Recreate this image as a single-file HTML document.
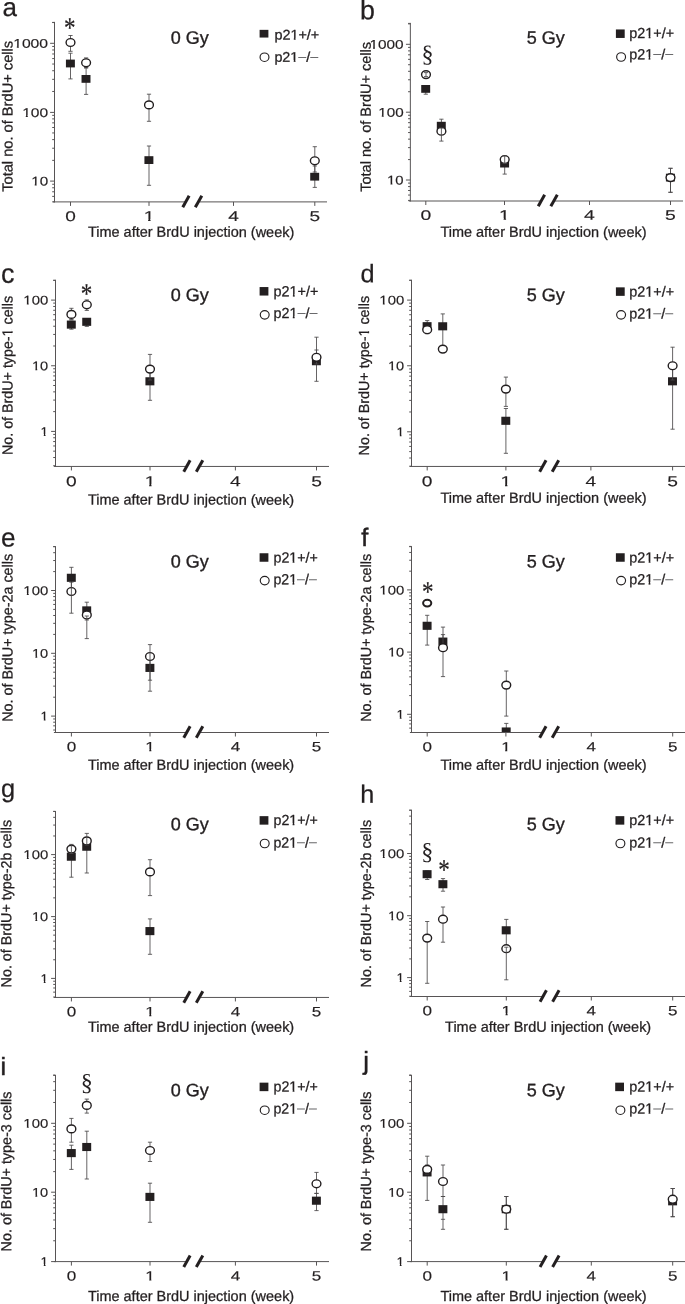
<!DOCTYPE html>
<html lang="en"><head><meta charset="utf-8"><title>BrdU+ cell counts after BrdU injection</title>
<style>
html,body{margin:0;padding:0;background:#fff;}
svg{display:block;}
text{white-space:pre;}
</style></head>
<body>
<svg width="685" height="1304" viewBox="0 0 685 1304">
<rect x="0" y="0" width="685" height="1304" fill="#ffffff"/>
<g id="panel-a">
<clipPath id="clip-a"><rect x="54.5" y="17.4" width="277.5" height="184.90"/></clipPath>
<g clip-path="url(#clip-a)">
<line x1="70.50" y1="53.20" x2="70.50" y2="78.90" stroke="#4a4849" stroke-width="0.85"/>
<line x1="68.40" y1="53.20" x2="72.60" y2="53.20" stroke="#4a4849" stroke-width="0.85"/>
<line x1="68.40" y1="78.90" x2="72.60" y2="78.90" stroke="#4a4849" stroke-width="0.85"/>
<rect x="65.93" y="59.60" width="8.95" height="7.8" fill="#231f20"/>
<line x1="70.50" y1="35.50" x2="70.50" y2="51.30" stroke="#4a4849" stroke-width="0.85"/>
<line x1="68.40" y1="35.50" x2="72.60" y2="35.50" stroke="#4a4849" stroke-width="0.85"/>
<line x1="68.40" y1="51.30" x2="72.60" y2="51.30" stroke="#4a4849" stroke-width="0.85"/>
<ellipse cx="70.50" cy="42.50" rx="4.4" ry="3.92" fill="#fff" stroke="#231f20" stroke-width="1.4"/>
<line x1="86.10" y1="67.60" x2="86.10" y2="94.40" stroke="#4a4849" stroke-width="0.85"/>
<line x1="84.00" y1="67.60" x2="88.20" y2="67.60" stroke="#4a4849" stroke-width="0.85"/>
<line x1="84.00" y1="94.40" x2="88.20" y2="94.40" stroke="#4a4849" stroke-width="0.85"/>
<rect x="81.53" y="75.00" width="8.95" height="7.8" fill="#231f20"/>
<line x1="86.10" y1="57.90" x2="86.10" y2="68.00" stroke="#4a4849" stroke-width="0.85"/>
<line x1="84.00" y1="57.90" x2="88.20" y2="57.90" stroke="#4a4849" stroke-width="0.85"/>
<line x1="84.00" y1="68.00" x2="88.20" y2="68.00" stroke="#4a4849" stroke-width="0.85"/>
<ellipse cx="86.10" cy="62.80" rx="4.4" ry="3.92" fill="#fff" stroke="#231f20" stroke-width="1.4"/>
<line x1="149.00" y1="146.00" x2="149.00" y2="185.30" stroke="#4a4849" stroke-width="0.85"/>
<line x1="146.90" y1="146.00" x2="151.10" y2="146.00" stroke="#4a4849" stroke-width="0.85"/>
<line x1="146.90" y1="185.30" x2="151.10" y2="185.30" stroke="#4a4849" stroke-width="0.85"/>
<rect x="144.43" y="156.20" width="8.95" height="7.8" fill="#231f20"/>
<line x1="149.00" y1="94.20" x2="149.00" y2="121.30" stroke="#4a4849" stroke-width="0.85"/>
<line x1="146.90" y1="94.20" x2="151.10" y2="94.20" stroke="#4a4849" stroke-width="0.85"/>
<line x1="146.90" y1="121.30" x2="151.10" y2="121.30" stroke="#4a4849" stroke-width="0.85"/>
<ellipse cx="149.00" cy="104.90" rx="4.4" ry="3.92" fill="#fff" stroke="#231f20" stroke-width="1.4"/>
<line x1="314.80" y1="166.00" x2="314.80" y2="187.40" stroke="#4a4849" stroke-width="0.85"/>
<line x1="312.70" y1="166.00" x2="316.90" y2="166.00" stroke="#4a4849" stroke-width="0.85"/>
<line x1="312.70" y1="187.40" x2="316.90" y2="187.40" stroke="#4a4849" stroke-width="0.85"/>
<rect x="310.22" y="172.80" width="8.95" height="7.8" fill="#231f20"/>
<line x1="314.80" y1="146.70" x2="314.80" y2="172.00" stroke="#4a4849" stroke-width="0.85"/>
<line x1="312.70" y1="146.70" x2="316.90" y2="146.70" stroke="#4a4849" stroke-width="0.85"/>
<line x1="312.70" y1="172.00" x2="316.90" y2="172.00" stroke="#4a4849" stroke-width="0.85"/>
<ellipse cx="314.80" cy="160.80" rx="4.4" ry="3.92" fill="#fff" stroke="#231f20" stroke-width="1.4"/>
</g>
<line x1="54.50" y1="21.90" x2="54.50" y2="202.40" stroke="#575455" stroke-width="1.0"/>
<line x1="52.90" y1="201.90" x2="185.25" y2="201.90" stroke="#575455" stroke-width="1.0"/>
<line x1="199.50" y1="201.90" x2="327.00" y2="201.90" stroke="#575455" stroke-width="1.0"/>
<line x1="182.75" y1="207.25" x2="189.15" y2="195.75" stroke="#231f20" stroke-width="3.0"/>
<line x1="195.30" y1="207.25" x2="201.80" y2="195.75" stroke="#231f20" stroke-width="3.0"/>
<line x1="70.50" y1="201.90" x2="70.50" y2="205.90" stroke="#575455" stroke-width="1.0"/>
<line x1="149.00" y1="201.90" x2="149.00" y2="205.90" stroke="#575455" stroke-width="1.0"/>
<line x1="233.50" y1="201.90" x2="233.50" y2="205.90" stroke="#575455" stroke-width="1.0"/>
<line x1="314.80" y1="201.90" x2="314.80" y2="205.90" stroke="#575455" stroke-width="1.0"/>
<line x1="50.10" y1="43.30" x2="54.50" y2="43.30" stroke="#575455" stroke-width="1.0"/>
<line x1="50.10" y1="112.40" x2="54.50" y2="112.40" stroke="#575455" stroke-width="1.0"/>
<line x1="50.10" y1="181.10" x2="54.50" y2="181.10" stroke="#575455" stroke-width="1.0"/>
<line x1="52.20" y1="201.84" x2="54.50" y2="201.84" stroke="#575455" stroke-width="1.0"/>
<line x1="52.20" y1="196.39" x2="54.50" y2="196.39" stroke="#575455" stroke-width="1.0"/>
<line x1="52.20" y1="191.77" x2="54.50" y2="191.77" stroke="#575455" stroke-width="1.0"/>
<line x1="52.20" y1="187.78" x2="54.50" y2="187.78" stroke="#575455" stroke-width="1.0"/>
<line x1="52.20" y1="184.25" x2="54.50" y2="184.25" stroke="#575455" stroke-width="1.0"/>
<line x1="52.20" y1="160.36" x2="54.50" y2="160.36" stroke="#575455" stroke-width="1.0"/>
<line x1="52.20" y1="148.23" x2="54.50" y2="148.23" stroke="#575455" stroke-width="1.0"/>
<line x1="52.20" y1="139.62" x2="54.50" y2="139.62" stroke="#575455" stroke-width="1.0"/>
<line x1="52.20" y1="132.94" x2="54.50" y2="132.94" stroke="#575455" stroke-width="1.0"/>
<line x1="52.20" y1="127.49" x2="54.50" y2="127.49" stroke="#575455" stroke-width="1.0"/>
<line x1="52.20" y1="122.87" x2="54.50" y2="122.87" stroke="#575455" stroke-width="1.0"/>
<line x1="52.20" y1="118.88" x2="54.50" y2="118.88" stroke="#575455" stroke-width="1.0"/>
<line x1="52.20" y1="115.35" x2="54.50" y2="115.35" stroke="#575455" stroke-width="1.0"/>
<line x1="52.20" y1="91.46" x2="54.50" y2="91.46" stroke="#575455" stroke-width="1.0"/>
<line x1="52.20" y1="79.33" x2="54.50" y2="79.33" stroke="#575455" stroke-width="1.0"/>
<line x1="52.20" y1="70.72" x2="54.50" y2="70.72" stroke="#575455" stroke-width="1.0"/>
<line x1="52.20" y1="64.04" x2="54.50" y2="64.04" stroke="#575455" stroke-width="1.0"/>
<line x1="52.20" y1="58.59" x2="54.50" y2="58.59" stroke="#575455" stroke-width="1.0"/>
<line x1="52.20" y1="53.97" x2="54.50" y2="53.97" stroke="#575455" stroke-width="1.0"/>
<line x1="52.20" y1="49.98" x2="54.50" y2="49.98" stroke="#575455" stroke-width="1.0"/>
<line x1="52.20" y1="46.45" x2="54.50" y2="46.45" stroke="#575455" stroke-width="1.0"/>
<line x1="52.20" y1="22.56" x2="54.50" y2="22.56" stroke="#575455" stroke-width="1.0"/>
<line x1="52.20" y1="22.40" x2="54.50" y2="22.40" stroke="#575455" stroke-width="0.9"/>
<text x="13.18" y="47.81" font-size="12.6" font-family='"Liberation Sans", Arial, Helvetica, sans-serif' fill="#231f20" transform="rotate(0.03 13.18 47.81)" textLength="34.92" lengthAdjust="spacingAndGlyphs" stroke="#231f20" stroke-width="0.15">1000</text>
<rect x="13.33" y="46.00" width="3.49" height="3.00" fill="#fff"/>
<rect x="18.82" y="46.00" width="3.56" height="3.00" fill="#fff"/>
<text x="22.18" y="116.91" font-size="12.6" font-family='"Liberation Sans", Arial, Helvetica, sans-serif' fill="#231f20" transform="rotate(0.03 22.18 116.91)" textLength="25.92" lengthAdjust="spacingAndGlyphs" stroke="#231f20" stroke-width="0.15">100</text>
<rect x="22.33" y="115.00" width="3.45" height="3.00" fill="#fff"/>
<rect x="27.76" y="115.00" width="3.52" height="3.00" fill="#fff"/>
<text x="31.18" y="185.61" font-size="12.6" font-family='"Liberation Sans", Arial, Helvetica, sans-serif' fill="#231f20" transform="rotate(0.03 31.18 185.61)" textLength="16.92" lengthAdjust="spacingAndGlyphs" stroke="#231f20" stroke-width="0.15">10</text>
<rect x="31.33" y="184.00" width="3.38" height="2.00" fill="#fff"/>
<rect x="36.65" y="184.00" width="3.45" height="2.00" fill="#fff"/>
<text x="65.20" y="221.00" font-size="14.1" font-family='"Liberation Sans", Arial, Helvetica, sans-serif' fill="#231f20" transform="rotate(0.03 65.20 221.00)" textLength="10.60" lengthAdjust="spacingAndGlyphs" stroke="#231f20" stroke-width="0.15">0</text>
<text x="143.70" y="221.00" font-size="14.1" font-family='"Liberation Sans", Arial, Helvetica, sans-serif' fill="#231f20" transform="rotate(0.03 143.70 221.00)" textLength="10.60" lengthAdjust="spacingAndGlyphs" stroke="#231f20" stroke-width="0.15">1</text>
<rect x="143.89" y="219.00" width="4.23" height="3.00" fill="#fff"/>
<rect x="150.55" y="219.00" width="4.32" height="3.00" fill="#fff"/>
<text x="228.20" y="221.00" font-size="14.1" font-family='"Liberation Sans", Arial, Helvetica, sans-serif' fill="#231f20" transform="rotate(0.03 228.20 221.00)" textLength="10.60" lengthAdjust="spacingAndGlyphs" stroke="#231f20" stroke-width="0.15">4</text>
<text x="309.50" y="221.00" font-size="14.1" font-family='"Liberation Sans", Arial, Helvetica, sans-serif' fill="#231f20" transform="rotate(0.03 309.50 221.00)" textLength="10.60" lengthAdjust="spacingAndGlyphs" stroke="#231f20" stroke-width="0.15">5</text>
<text x="87.90" y="236.80" font-size="14.6" font-family='"Liberation Sans", Arial, Helvetica, sans-serif' fill="#231f20" transform="rotate(0.03 87.90 236.80)" textLength="206.40" lengthAdjust="spacingAndGlyphs" stroke="#231f20" stroke-width="0.28" stroke-linejoin="round">Time after BrdU injection (week)</text>
<g transform="translate(12.50,191.80) rotate(-89.97)">
<text x="0.00" y="0.00" font-size="14.6" font-family='"Liberation Sans", Arial, Helvetica, sans-serif' fill="#231f20" textLength="150.90" lengthAdjust="spacingAndGlyphs" stroke="#231f20" stroke-width="0.28" stroke-linejoin="round">Total no. of BrdU+ cells</text>
</g>
<text x="2.60" y="16.10" font-size="26.0" font-family='"Liberation Sans", Arial, Helvetica, sans-serif' fill="#231f20" transform="rotate(0.03 2.60 16.10)" stroke="#231f20" stroke-width="0.25">a</text>
<text x="170.70" y="43.80" font-size="18.0" font-family='"Liberation Sans", Arial, Helvetica, sans-serif' fill="#231f20" transform="rotate(0.03 170.70 43.80)" stroke="#231f20" stroke-width="0.35">0 Gy</text>
<rect x="259.60" y="29.85" width="8.8" height="7.7" fill="#231f20"/>
<ellipse cx="264.50" cy="57.20" rx="4.45" ry="4.25" fill="#fff" stroke="#231f20" stroke-width="1.15"/>
<text x="274.40" y="39.40" font-size="14.0" font-family='"Liberation Sans", Arial, Helvetica, sans-serif' fill="#231f20" transform="rotate(0.03 274.40 39.40)" textLength="44.90" lengthAdjust="spacingAndGlyphs" stroke="#231f20" stroke-width="0.28" stroke-linejoin="round">p21+/+</text>
<rect x="290.58" y="38.00" width="3.20" height="2.00" fill="#fff"/>
<rect x="295.62" y="38.00" width="3.27" height="2.00" fill="#fff"/>
<text x="274.40" y="61.80" font-size="14.0" font-family='"Liberation Sans", Arial, Helvetica, sans-serif' fill="#231f20" transform="rotate(0.03 274.40 61.80)" textLength="43.90" lengthAdjust="spacingAndGlyphs" stroke="#231f20" stroke-width="0.28" stroke-linejoin="round">p21<tspan dy="-0.9" fill="#6a6a6c" stroke="none">–</tspan><tspan dy="0.9">/</tspan><tspan dy="-0.9" fill="#6a6a6c" stroke="none">–</tspan></text>
<rect x="290.51" y="60.00" width="3.19" height="3.00" fill="#fff"/>
<rect x="295.52" y="60.00" width="3.25" height="3.00" fill="#fff"/>
<text x="64.05" y="37.20" font-size="28.5" font-family='"Liberation Serif", "Times New Roman", serif' fill="#231f20" transform="rotate(0.03 64.05 37.20)" textLength="11.50" lengthAdjust="spacingAndGlyphs" stroke="#231f20" stroke-width="0.25" stroke-linejoin="round">*</text>
</g>
<g id="panel-b">
<clipPath id="clip-b"><rect x="410.35" y="18.4" width="277.65" height="183.00"/></clipPath>
<g clip-path="url(#clip-b)">
<line x1="425.80" y1="86.00" x2="425.80" y2="94.20" stroke="#4a4849" stroke-width="0.85"/>
<line x1="423.70" y1="86.00" x2="427.90" y2="86.00" stroke="#4a4849" stroke-width="0.85"/>
<line x1="423.70" y1="94.20" x2="427.90" y2="94.20" stroke="#4a4849" stroke-width="0.85"/>
<rect x="421.22" y="85.00" width="8.95" height="7.8" fill="#231f20"/>
<ellipse cx="426.00" cy="74.60" rx="4.4" ry="3.92" fill="#fff" stroke="#231f20" stroke-width="1.4"/>
<line x1="426.00" y1="72.60" x2="426.00" y2="76.60" stroke="#4a4849" stroke-width="0.85"/>
<line x1="423.90" y1="72.60" x2="428.10" y2="72.60" stroke="#4a4849" stroke-width="0.85"/>
<line x1="423.90" y1="76.60" x2="428.10" y2="76.60" stroke="#4a4849" stroke-width="0.85"/>
<line x1="441.40" y1="119.20" x2="441.40" y2="133.50" stroke="#4a4849" stroke-width="0.85"/>
<line x1="439.30" y1="119.20" x2="443.50" y2="119.20" stroke="#4a4849" stroke-width="0.85"/>
<line x1="439.30" y1="133.50" x2="443.50" y2="133.50" stroke="#4a4849" stroke-width="0.85"/>
<rect x="436.82" y="121.80" width="8.95" height="7.8" fill="#231f20"/>
<ellipse cx="441.40" cy="131.20" rx="4.4" ry="3.92" fill="#fff" stroke="#231f20" stroke-width="1.4"/>
<line x1="441.40" y1="128.00" x2="441.40" y2="141.10" stroke="#4a4849" stroke-width="0.85"/>
<line x1="439.30" y1="128.00" x2="443.50" y2="128.00" stroke="#4a4849" stroke-width="0.85"/>
<line x1="439.30" y1="141.10" x2="443.50" y2="141.10" stroke="#4a4849" stroke-width="0.85"/>
<line x1="504.70" y1="158.00" x2="504.70" y2="174.10" stroke="#4a4849" stroke-width="0.85"/>
<line x1="502.60" y1="158.00" x2="506.80" y2="158.00" stroke="#4a4849" stroke-width="0.85"/>
<line x1="502.60" y1="174.10" x2="506.80" y2="174.10" stroke="#4a4849" stroke-width="0.85"/>
<rect x="500.12" y="159.70" width="8.95" height="7.8" fill="#231f20"/>
<ellipse cx="504.70" cy="159.50" rx="4.4" ry="3.92" fill="#fff" stroke="#231f20" stroke-width="1.4"/>
<line x1="504.70" y1="155.80" x2="504.70" y2="163.50" stroke="#4a4849" stroke-width="0.85"/>
<line x1="502.60" y1="155.80" x2="506.80" y2="155.80" stroke="#4a4849" stroke-width="0.85"/>
<line x1="502.60" y1="163.50" x2="506.80" y2="163.50" stroke="#4a4849" stroke-width="0.85"/>
<line x1="670.50" y1="168.30" x2="670.50" y2="192.30" stroke="#4a4849" stroke-width="0.85"/>
<line x1="668.40" y1="168.30" x2="672.60" y2="168.30" stroke="#4a4849" stroke-width="0.85"/>
<line x1="668.40" y1="192.30" x2="672.60" y2="192.30" stroke="#4a4849" stroke-width="0.85"/>
<rect x="665.92" y="173.70" width="8.95" height="7.8" fill="#231f20"/>
<line x1="670.50" y1="168.30" x2="670.50" y2="192.30" stroke="#4a4849" stroke-width="0.85"/>
<line x1="668.40" y1="168.30" x2="672.60" y2="168.30" stroke="#4a4849" stroke-width="0.85"/>
<line x1="668.40" y1="192.30" x2="672.60" y2="192.30" stroke="#4a4849" stroke-width="0.85"/>
<ellipse cx="670.50" cy="177.60" rx="4.4" ry="3.92" fill="#fff" stroke="#231f20" stroke-width="1.4"/>
</g>
<line x1="410.35" y1="22.90" x2="410.35" y2="201.50" stroke="#575455" stroke-width="1.0"/>
<line x1="408.75" y1="201.00" x2="540.75" y2="201.00" stroke="#575455" stroke-width="1.0"/>
<line x1="555.00" y1="201.00" x2="683.00" y2="201.00" stroke="#575455" stroke-width="1.0"/>
<line x1="538.25" y1="206.35" x2="544.65" y2="194.85" stroke="#231f20" stroke-width="3.0"/>
<line x1="550.80" y1="206.35" x2="557.30" y2="194.85" stroke="#231f20" stroke-width="3.0"/>
<line x1="425.80" y1="201.00" x2="425.80" y2="205.00" stroke="#575455" stroke-width="1.0"/>
<line x1="504.50" y1="201.00" x2="504.50" y2="205.00" stroke="#575455" stroke-width="1.0"/>
<line x1="589.50" y1="201.00" x2="589.50" y2="205.00" stroke="#575455" stroke-width="1.0"/>
<line x1="670.50" y1="201.00" x2="670.50" y2="205.00" stroke="#575455" stroke-width="1.0"/>
<line x1="405.95" y1="44.30" x2="410.35" y2="44.30" stroke="#575455" stroke-width="1.0"/>
<line x1="405.95" y1="112.20" x2="410.35" y2="112.20" stroke="#575455" stroke-width="1.0"/>
<line x1="405.95" y1="180.00" x2="410.35" y2="180.00" stroke="#575455" stroke-width="1.0"/>
<line x1="408.05" y1="200.42" x2="410.35" y2="200.42" stroke="#575455" stroke-width="1.0"/>
<line x1="408.05" y1="195.05" x2="410.35" y2="195.05" stroke="#575455" stroke-width="1.0"/>
<line x1="408.05" y1="190.51" x2="410.35" y2="190.51" stroke="#575455" stroke-width="1.0"/>
<line x1="408.05" y1="186.58" x2="410.35" y2="186.58" stroke="#575455" stroke-width="1.0"/>
<line x1="408.05" y1="183.10" x2="410.35" y2="183.10" stroke="#575455" stroke-width="1.0"/>
<line x1="408.05" y1="159.58" x2="410.35" y2="159.58" stroke="#575455" stroke-width="1.0"/>
<line x1="408.05" y1="147.63" x2="410.35" y2="147.63" stroke="#575455" stroke-width="1.0"/>
<line x1="408.05" y1="139.15" x2="410.35" y2="139.15" stroke="#575455" stroke-width="1.0"/>
<line x1="408.05" y1="132.57" x2="410.35" y2="132.57" stroke="#575455" stroke-width="1.0"/>
<line x1="408.05" y1="127.20" x2="410.35" y2="127.20" stroke="#575455" stroke-width="1.0"/>
<line x1="408.05" y1="122.66" x2="410.35" y2="122.66" stroke="#575455" stroke-width="1.0"/>
<line x1="408.05" y1="118.73" x2="410.35" y2="118.73" stroke="#575455" stroke-width="1.0"/>
<line x1="408.05" y1="115.25" x2="410.35" y2="115.25" stroke="#575455" stroke-width="1.0"/>
<line x1="408.05" y1="91.73" x2="410.35" y2="91.73" stroke="#575455" stroke-width="1.0"/>
<line x1="408.05" y1="79.78" x2="410.35" y2="79.78" stroke="#575455" stroke-width="1.0"/>
<line x1="408.05" y1="71.30" x2="410.35" y2="71.30" stroke="#575455" stroke-width="1.0"/>
<line x1="408.05" y1="64.72" x2="410.35" y2="64.72" stroke="#575455" stroke-width="1.0"/>
<line x1="408.05" y1="59.35" x2="410.35" y2="59.35" stroke="#575455" stroke-width="1.0"/>
<line x1="408.05" y1="54.81" x2="410.35" y2="54.81" stroke="#575455" stroke-width="1.0"/>
<line x1="408.05" y1="50.88" x2="410.35" y2="50.88" stroke="#575455" stroke-width="1.0"/>
<line x1="408.05" y1="47.40" x2="410.35" y2="47.40" stroke="#575455" stroke-width="1.0"/>
<line x1="408.05" y1="23.88" x2="410.35" y2="23.88" stroke="#575455" stroke-width="1.0"/>
<line x1="408.05" y1="23.40" x2="410.35" y2="23.40" stroke="#575455" stroke-width="0.9"/>
<text x="369.46" y="48.81" font-size="12.6" font-family='"Liberation Sans", Arial, Helvetica, sans-serif' fill="#231f20" transform="rotate(0.03 369.46 48.81)" textLength="34.14" lengthAdjust="spacingAndGlyphs" stroke="#231f20" stroke-width="0.15">1000</text>
<rect x="369.61" y="47.00" width="3.41" height="3.00" fill="#fff"/>
<rect x="374.97" y="47.00" width="3.48" height="3.00" fill="#fff"/>
<text x="378.26" y="116.71" font-size="12.6" font-family='"Liberation Sans", Arial, Helvetica, sans-serif' fill="#231f20" transform="rotate(0.03 378.26 116.71)" textLength="25.34" lengthAdjust="spacingAndGlyphs" stroke="#231f20" stroke-width="0.15">100</text>
<rect x="378.40" y="115.00" width="3.37" height="3.00" fill="#fff"/>
<rect x="383.71" y="115.00" width="3.44" height="3.00" fill="#fff"/>
<text x="387.06" y="184.51" font-size="12.6" font-family='"Liberation Sans", Arial, Helvetica, sans-serif' fill="#231f20" transform="rotate(0.03 387.06 184.51)" textLength="16.54" lengthAdjust="spacingAndGlyphs" stroke="#231f20" stroke-width="0.15">10</text>
<rect x="387.20" y="183.00" width="3.30" height="2.00" fill="#fff"/>
<rect x="392.40" y="183.00" width="3.37" height="2.00" fill="#fff"/>
<text x="420.40" y="219.83" font-size="13.7" font-family='"Liberation Sans", Arial, Helvetica, sans-serif' fill="#231f20" transform="rotate(0.03 420.40 219.83)" textLength="10.80" lengthAdjust="spacingAndGlyphs" stroke="#231f20" stroke-width="0.15">0</text>
<text x="499.10" y="219.83" font-size="13.7" font-family='"Liberation Sans", Arial, Helvetica, sans-serif' fill="#231f20" transform="rotate(0.03 499.10 219.83)" textLength="10.80" lengthAdjust="spacingAndGlyphs" stroke="#231f20" stroke-width="0.15">1</text>
<rect x="499.29" y="218.00" width="4.31" height="3.00" fill="#fff"/>
<rect x="506.08" y="218.00" width="4.40" height="3.00" fill="#fff"/>
<text x="584.10" y="219.83" font-size="13.7" font-family='"Liberation Sans", Arial, Helvetica, sans-serif' fill="#231f20" transform="rotate(0.03 584.10 219.83)" textLength="10.80" lengthAdjust="spacingAndGlyphs" stroke="#231f20" stroke-width="0.15">4</text>
<text x="665.10" y="219.83" font-size="13.7" font-family='"Liberation Sans", Arial, Helvetica, sans-serif' fill="#231f20" transform="rotate(0.03 665.10 219.83)" textLength="10.80" lengthAdjust="spacingAndGlyphs" stroke="#231f20" stroke-width="0.15">5</text>
<text x="440.40" y="236.80" font-size="14.6" font-family='"Liberation Sans", Arial, Helvetica, sans-serif' fill="#231f20" transform="rotate(0.03 440.40 236.80)" textLength="206.10" lengthAdjust="spacingAndGlyphs" stroke="#231f20" stroke-width="0.28" stroke-linejoin="round">Time after BrdU injection (week)</text>
<g transform="translate(370.70,191.80) rotate(-89.97)">
<text x="0.00" y="0.00" font-size="14.6" font-family='"Liberation Sans", Arial, Helvetica, sans-serif' fill="#231f20" textLength="149.90" lengthAdjust="spacingAndGlyphs" stroke="#231f20" stroke-width="0.28" stroke-linejoin="round">Total no. of BrdU+ cells</text>
</g>
<text x="360.00" y="19.30" font-size="26.8" font-family='"Liberation Sans", Arial, Helvetica, sans-serif' fill="#231f20" transform="rotate(0.03 360.00 19.30)" stroke="#231f20" stroke-width="0.25">b</text>
<text x="526.70" y="43.70" font-size="18.0" font-family='"Liberation Sans", Arial, Helvetica, sans-serif' fill="#231f20" transform="rotate(0.03 526.70 43.70)" stroke="#231f20" stroke-width="0.35">5 Gy</text>
<rect x="615.90" y="29.45" width="8.8" height="8.5" fill="#231f20"/>
<ellipse cx="621.10" cy="57.00" rx="4.45" ry="4.25" fill="#fff" stroke="#231f20" stroke-width="1.15"/>
<text x="629.30" y="38.00" font-size="14.6" font-family='"Liberation Sans", Arial, Helvetica, sans-serif' fill="#231f20" transform="rotate(0.03 629.30 38.00)" textLength="44.80" lengthAdjust="spacingAndGlyphs" stroke="#231f20" stroke-width="0.28" stroke-linejoin="round">p21+/+</text>
<rect x="645.44" y="36.00" width="3.20" height="3.00" fill="#fff"/>
<rect x="650.47" y="36.00" width="3.26" height="3.00" fill="#fff"/>
<text x="629.30" y="59.20" font-size="14.6" font-family='"Liberation Sans", Arial, Helvetica, sans-serif' fill="#231f20" transform="rotate(0.03 629.30 59.20)" textLength="43.80" lengthAdjust="spacingAndGlyphs" stroke="#231f20" stroke-width="0.28" stroke-linejoin="round">p21<tspan dy="-0.9" fill="#6a6a6c" stroke="none">–</tspan><tspan dy="0.9">/</tspan><tspan dy="-0.9" fill="#6a6a6c" stroke="none">–</tspan></text>
<rect x="645.37" y="57.00" width="3.18" height="3.00" fill="#fff"/>
<rect x="650.37" y="57.00" width="3.24" height="3.00" fill="#fff"/>
<text x="427.40" y="61.80" font-size="24" font-family='"Liberation Serif", "Times New Roman", serif' fill="#231f20" transform="rotate(0.03 427.40 61.80)" text-anchor="middle">§</text>
</g>
<g id="panel-c">
<clipPath id="clip-c"><rect x="55.5" y="275.3" width="278.5" height="191.55"/></clipPath>
<g clip-path="url(#clip-c)">
<line x1="71.40" y1="321.00" x2="71.40" y2="329.20" stroke="#4a4849" stroke-width="0.85"/>
<line x1="69.30" y1="321.00" x2="73.50" y2="321.00" stroke="#4a4849" stroke-width="0.85"/>
<line x1="69.30" y1="329.20" x2="73.50" y2="329.20" stroke="#4a4849" stroke-width="0.85"/>
<rect x="66.83" y="320.55" width="8.95" height="8.1" fill="#231f20"/>
<line x1="71.40" y1="308.30" x2="71.40" y2="319.50" stroke="#4a4849" stroke-width="0.85"/>
<line x1="69.30" y1="308.30" x2="73.50" y2="308.30" stroke="#4a4849" stroke-width="0.85"/>
<line x1="69.30" y1="319.50" x2="73.50" y2="319.50" stroke="#4a4849" stroke-width="0.85"/>
<ellipse cx="71.40" cy="314.40" rx="4.4" ry="3.92" fill="#fff" stroke="#231f20" stroke-width="1.4"/>
<line x1="86.80" y1="318.50" x2="86.80" y2="326.40" stroke="#4a4849" stroke-width="0.85"/>
<line x1="84.70" y1="318.50" x2="88.90" y2="318.50" stroke="#4a4849" stroke-width="0.85"/>
<line x1="84.70" y1="326.40" x2="88.90" y2="326.40" stroke="#4a4849" stroke-width="0.85"/>
<rect x="82.23" y="317.75" width="8.95" height="8.1" fill="#231f20"/>
<line x1="86.80" y1="299.90" x2="86.80" y2="310.40" stroke="#4a4849" stroke-width="0.85"/>
<line x1="84.70" y1="299.90" x2="88.90" y2="299.90" stroke="#4a4849" stroke-width="0.85"/>
<line x1="84.70" y1="310.40" x2="88.90" y2="310.40" stroke="#4a4849" stroke-width="0.85"/>
<ellipse cx="86.80" cy="304.80" rx="4.4" ry="3.92" fill="#fff" stroke="#231f20" stroke-width="1.4"/>
<line x1="150.00" y1="368.00" x2="150.00" y2="400.30" stroke="#4a4849" stroke-width="0.85"/>
<line x1="147.90" y1="368.00" x2="152.10" y2="368.00" stroke="#4a4849" stroke-width="0.85"/>
<line x1="147.90" y1="400.30" x2="152.10" y2="400.30" stroke="#4a4849" stroke-width="0.85"/>
<rect x="145.43" y="377.25" width="8.95" height="8.1" fill="#231f20"/>
<line x1="150.00" y1="354.40" x2="150.00" y2="380.00" stroke="#4a4849" stroke-width="0.85"/>
<line x1="147.90" y1="354.40" x2="152.10" y2="354.40" stroke="#4a4849" stroke-width="0.85"/>
<line x1="147.90" y1="380.00" x2="152.10" y2="380.00" stroke="#4a4849" stroke-width="0.85"/>
<ellipse cx="150.00" cy="369.10" rx="4.4" ry="3.92" fill="#fff" stroke="#231f20" stroke-width="1.4"/>
<line x1="316.50" y1="337.20" x2="316.50" y2="381.30" stroke="#4a4849" stroke-width="0.85"/>
<line x1="314.40" y1="337.20" x2="318.60" y2="337.20" stroke="#4a4849" stroke-width="0.85"/>
<line x1="314.40" y1="381.30" x2="318.60" y2="381.30" stroke="#4a4849" stroke-width="0.85"/>
<rect x="311.92" y="357.15" width="8.95" height="8.1" fill="#231f20"/>
<line x1="316.50" y1="350.00" x2="316.50" y2="364.00" stroke="#4a4849" stroke-width="0.85"/>
<line x1="314.40" y1="350.00" x2="318.60" y2="350.00" stroke="#4a4849" stroke-width="0.85"/>
<line x1="314.40" y1="364.00" x2="318.60" y2="364.00" stroke="#4a4849" stroke-width="0.85"/>
<ellipse cx="316.50" cy="357.30" rx="4.4" ry="3.92" fill="#fff" stroke="#231f20" stroke-width="1.4"/>
</g>
<line x1="55.50" y1="279.80" x2="55.50" y2="466.95" stroke="#575455" stroke-width="1.0"/>
<line x1="53.90" y1="466.45" x2="186.25" y2="466.45" stroke="#575455" stroke-width="1.0"/>
<line x1="200.50" y1="466.45" x2="329.00" y2="466.45" stroke="#575455" stroke-width="1.0"/>
<line x1="183.75" y1="471.80" x2="190.15" y2="460.30" stroke="#231f20" stroke-width="3.0"/>
<line x1="196.30" y1="471.80" x2="202.80" y2="460.30" stroke="#231f20" stroke-width="3.0"/>
<line x1="71.40" y1="466.45" x2="71.40" y2="470.45" stroke="#575455" stroke-width="1.0"/>
<line x1="150.00" y1="466.45" x2="150.00" y2="470.45" stroke="#575455" stroke-width="1.0"/>
<line x1="235.40" y1="466.45" x2="235.40" y2="470.45" stroke="#575455" stroke-width="1.0"/>
<line x1="316.50" y1="466.45" x2="316.50" y2="470.45" stroke="#575455" stroke-width="1.0"/>
<line x1="51.10" y1="300.10" x2="55.50" y2="300.10" stroke="#575455" stroke-width="1.0"/>
<line x1="51.10" y1="365.75" x2="55.50" y2="365.75" stroke="#575455" stroke-width="1.0"/>
<line x1="51.10" y1="431.40" x2="55.50" y2="431.40" stroke="#575455" stroke-width="1.0"/>
<line x1="53.20" y1="465.73" x2="55.50" y2="465.73" stroke="#575455" stroke-width="1.0"/>
<line x1="53.20" y1="457.52" x2="55.50" y2="457.52" stroke="#575455" stroke-width="1.0"/>
<line x1="53.20" y1="451.16" x2="55.50" y2="451.16" stroke="#575455" stroke-width="1.0"/>
<line x1="53.20" y1="445.96" x2="55.50" y2="445.96" stroke="#575455" stroke-width="1.0"/>
<line x1="53.20" y1="441.57" x2="55.50" y2="441.57" stroke="#575455" stroke-width="1.0"/>
<line x1="53.20" y1="437.76" x2="55.50" y2="437.76" stroke="#575455" stroke-width="1.0"/>
<line x1="53.20" y1="434.40" x2="55.50" y2="434.40" stroke="#575455" stroke-width="1.0"/>
<line x1="53.20" y1="411.64" x2="55.50" y2="411.64" stroke="#575455" stroke-width="1.0"/>
<line x1="53.20" y1="400.08" x2="55.50" y2="400.08" stroke="#575455" stroke-width="1.0"/>
<line x1="53.20" y1="391.87" x2="55.50" y2="391.87" stroke="#575455" stroke-width="1.0"/>
<line x1="53.20" y1="385.51" x2="55.50" y2="385.51" stroke="#575455" stroke-width="1.0"/>
<line x1="53.20" y1="380.31" x2="55.50" y2="380.31" stroke="#575455" stroke-width="1.0"/>
<line x1="53.20" y1="375.92" x2="55.50" y2="375.92" stroke="#575455" stroke-width="1.0"/>
<line x1="53.20" y1="372.11" x2="55.50" y2="372.11" stroke="#575455" stroke-width="1.0"/>
<line x1="53.20" y1="368.75" x2="55.50" y2="368.75" stroke="#575455" stroke-width="1.0"/>
<line x1="53.20" y1="345.99" x2="55.50" y2="345.99" stroke="#575455" stroke-width="1.0"/>
<line x1="53.20" y1="334.43" x2="55.50" y2="334.43" stroke="#575455" stroke-width="1.0"/>
<line x1="53.20" y1="326.22" x2="55.50" y2="326.22" stroke="#575455" stroke-width="1.0"/>
<line x1="53.20" y1="319.86" x2="55.50" y2="319.86" stroke="#575455" stroke-width="1.0"/>
<line x1="53.20" y1="314.66" x2="55.50" y2="314.66" stroke="#575455" stroke-width="1.0"/>
<line x1="53.20" y1="310.27" x2="55.50" y2="310.27" stroke="#575455" stroke-width="1.0"/>
<line x1="53.20" y1="306.46" x2="55.50" y2="306.46" stroke="#575455" stroke-width="1.0"/>
<line x1="53.20" y1="303.10" x2="55.50" y2="303.10" stroke="#575455" stroke-width="1.0"/>
<line x1="53.20" y1="280.34" x2="55.50" y2="280.34" stroke="#575455" stroke-width="1.0"/>
<line x1="53.20" y1="280.30" x2="55.50" y2="280.30" stroke="#575455" stroke-width="0.9"/>
<text x="23.37" y="304.61" font-size="12.6" font-family='"Liberation Sans", Arial, Helvetica, sans-serif' fill="#231f20" transform="rotate(0.03 23.37 304.61)" textLength="24.83" lengthAdjust="spacingAndGlyphs" stroke="#231f20" stroke-width="0.15">100</text>
<rect x="23.52" y="303.00" width="3.31" height="2.00" fill="#fff"/>
<rect x="28.72" y="303.00" width="3.37" height="2.00" fill="#fff"/>
<text x="31.99" y="370.26" font-size="12.6" font-family='"Liberation Sans", Arial, Helvetica, sans-serif' fill="#231f20" transform="rotate(0.03 31.99 370.26)" textLength="16.21" lengthAdjust="spacingAndGlyphs" stroke="#231f20" stroke-width="0.15">10</text>
<rect x="32.14" y="369.00" width="3.24" height="2.00" fill="#fff"/>
<rect x="37.23" y="369.00" width="3.30" height="2.00" fill="#fff"/>
<text x="40.61" y="435.91" font-size="12.6" font-family='"Liberation Sans", Arial, Helvetica, sans-serif' fill="#231f20" transform="rotate(0.03 40.61 435.91)" textLength="7.59" lengthAdjust="spacingAndGlyphs" stroke="#231f20" stroke-width="0.15">1</text>
<rect x="40.75" y="434.00" width="3.03" height="3.00" fill="#fff"/>
<rect x="45.52" y="434.00" width="3.09" height="3.00" fill="#fff"/>
<text x="66.05" y="486.29" font-size="14.5" font-family='"Liberation Sans", Arial, Helvetica, sans-serif' fill="#231f20" transform="rotate(0.03 66.05 486.29)" textLength="10.70" lengthAdjust="spacingAndGlyphs" stroke="#231f20" stroke-width="0.15">0</text>
<text x="144.65" y="486.29" font-size="14.5" font-family='"Liberation Sans", Arial, Helvetica, sans-serif' fill="#231f20" transform="rotate(0.03 144.65 486.29)" textLength="10.70" lengthAdjust="spacingAndGlyphs" stroke="#231f20" stroke-width="0.15">1</text>
<rect x="144.84" y="484.00" width="4.27" height="3.00" fill="#fff"/>
<rect x="151.56" y="484.00" width="4.36" height="3.00" fill="#fff"/>
<text x="230.05" y="486.29" font-size="14.5" font-family='"Liberation Sans", Arial, Helvetica, sans-serif' fill="#231f20" transform="rotate(0.03 230.05 486.29)" textLength="10.70" lengthAdjust="spacingAndGlyphs" stroke="#231f20" stroke-width="0.15">4</text>
<text x="311.15" y="486.29" font-size="14.5" font-family='"Liberation Sans", Arial, Helvetica, sans-serif' fill="#231f20" transform="rotate(0.03 311.15 486.29)" textLength="10.70" lengthAdjust="spacingAndGlyphs" stroke="#231f20" stroke-width="0.15">5</text>
<text x="87.90" y="504.55" font-size="14.6" font-family='"Liberation Sans", Arial, Helvetica, sans-serif' fill="#231f20" transform="rotate(0.03 87.90 504.55)" textLength="206.30" lengthAdjust="spacingAndGlyphs" stroke="#231f20" stroke-width="0.28" stroke-linejoin="round">Time after BrdU injection (week)</text>
<g transform="translate(12.50,455.00) rotate(-89.97)">
<text x="0.00" y="0.00" font-size="14.6" font-family='"Liberation Sans", Arial, Helvetica, sans-serif' fill="#231f20" textLength="159.10" lengthAdjust="spacingAndGlyphs" stroke="#231f20" stroke-width="0.28" stroke-linejoin="round">No. of BrdU+ type-1 cells</text>
<rect x="118.77" y="-1.50" width="3.17" height="2.00" fill="#fff"/>
<rect x="123.76" y="-1.50" width="3.23" height="2.00" fill="#fff"/>
</g>
<text x="1.10" y="282.80" font-size="27.0" font-family='"Liberation Sans", Arial, Helvetica, sans-serif' fill="#231f20" transform="rotate(0.03 1.10 282.80)" stroke="#231f20" stroke-width="0.25">c</text>
<text x="170.70" y="301.00" font-size="18.0" font-family='"Liberation Sans", Arial, Helvetica, sans-serif' fill="#231f20" transform="rotate(0.03 170.70 301.00)" stroke="#231f20" stroke-width="0.35">0 Gy</text>
<rect x="259.60" y="287.05" width="8.8" height="8.5" fill="#231f20"/>
<ellipse cx="264.70" cy="314.80" rx="4.45" ry="4.25" fill="#fff" stroke="#231f20" stroke-width="1.15"/>
<text x="273.50" y="296.20" font-size="14.6" font-family='"Liberation Sans", Arial, Helvetica, sans-serif' fill="#231f20" transform="rotate(0.03 273.50 296.20)" textLength="44.90" lengthAdjust="spacingAndGlyphs" stroke="#231f20" stroke-width="0.28" stroke-linejoin="round">p21+/+</text>
<rect x="289.68" y="294.00" width="3.20" height="3.00" fill="#fff"/>
<rect x="294.72" y="294.00" width="3.27" height="3.00" fill="#fff"/>
<text x="273.50" y="318.10" font-size="14.6" font-family='"Liberation Sans", Arial, Helvetica, sans-serif' fill="#231f20" transform="rotate(0.03 273.50 318.10)" textLength="43.90" lengthAdjust="spacingAndGlyphs" stroke="#231f20" stroke-width="0.28" stroke-linejoin="round">p21<tspan dy="-0.9" fill="#6a6a6c" stroke="none">–</tspan><tspan dy="0.9">/</tspan><tspan dy="-0.9" fill="#6a6a6c" stroke="none">–</tspan></text>
<rect x="289.61" y="316.00" width="3.19" height="3.00" fill="#fff"/>
<rect x="294.62" y="316.00" width="3.25" height="3.00" fill="#fff"/>
<text x="80.65" y="302.50" font-size="28.5" font-family='"Liberation Serif", "Times New Roman", serif' fill="#231f20" transform="rotate(0.03 80.65 302.50)" textLength="11.50" lengthAdjust="spacingAndGlyphs" stroke="#231f20" stroke-width="0.25" stroke-linejoin="round">*</text>
</g>
<g id="panel-d">
<clipPath id="clip-d"><rect x="411.5" y="275.3" width="278.5" height="191.55"/></clipPath>
<g clip-path="url(#clip-d)">
<line x1="427.20" y1="320.60" x2="427.20" y2="331.00" stroke="#4a4849" stroke-width="0.85"/>
<line x1="425.10" y1="320.60" x2="429.30" y2="320.60" stroke="#4a4849" stroke-width="0.85"/>
<line x1="425.10" y1="331.00" x2="429.30" y2="331.00" stroke="#4a4849" stroke-width="0.85"/>
<rect x="422.62" y="322.15" width="8.95" height="8.1" fill="#231f20"/>
<line x1="427.20" y1="326.00" x2="427.20" y2="333.70" stroke="#4a4849" stroke-width="0.85"/>
<line x1="425.10" y1="326.00" x2="429.30" y2="326.00" stroke="#4a4849" stroke-width="0.85"/>
<line x1="425.10" y1="333.70" x2="429.30" y2="333.70" stroke="#4a4849" stroke-width="0.85"/>
<ellipse cx="427.20" cy="329.70" rx="4.4" ry="3.92" fill="#fff" stroke="#231f20" stroke-width="1.4"/>
<line x1="442.80" y1="313.90" x2="442.80" y2="346.80" stroke="#4a4849" stroke-width="0.85"/>
<line x1="440.70" y1="313.90" x2="444.90" y2="313.90" stroke="#4a4849" stroke-width="0.85"/>
<line x1="440.70" y1="346.80" x2="444.90" y2="346.80" stroke="#4a4849" stroke-width="0.85"/>
<rect x="438.22" y="322.25" width="8.95" height="8.1" fill="#231f20"/>
<line x1="442.80" y1="346.80" x2="442.80" y2="351.40" stroke="#4a4849" stroke-width="0.85"/>
<line x1="440.70" y1="346.80" x2="444.90" y2="346.80" stroke="#4a4849" stroke-width="0.85"/>
<line x1="440.70" y1="351.40" x2="444.90" y2="351.40" stroke="#4a4849" stroke-width="0.85"/>
<ellipse cx="442.80" cy="349.10" rx="4.4" ry="3.92" fill="#fff" stroke="#231f20" stroke-width="1.4"/>
<line x1="505.90" y1="408.50" x2="505.90" y2="453.30" stroke="#4a4849" stroke-width="0.85"/>
<line x1="503.80" y1="408.50" x2="508.00" y2="408.50" stroke="#4a4849" stroke-width="0.85"/>
<line x1="503.80" y1="453.30" x2="508.00" y2="453.30" stroke="#4a4849" stroke-width="0.85"/>
<rect x="501.32" y="416.75" width="8.95" height="8.1" fill="#231f20"/>
<line x1="505.90" y1="377.10" x2="505.90" y2="406.40" stroke="#4a4849" stroke-width="0.85"/>
<line x1="503.80" y1="377.10" x2="508.00" y2="377.10" stroke="#4a4849" stroke-width="0.85"/>
<line x1="503.80" y1="406.40" x2="508.00" y2="406.40" stroke="#4a4849" stroke-width="0.85"/>
<ellipse cx="505.90" cy="389.10" rx="4.4" ry="3.92" fill="#fff" stroke="#231f20" stroke-width="1.4"/>
<line x1="672.60" y1="366.00" x2="672.60" y2="429.20" stroke="#4a4849" stroke-width="0.85"/>
<line x1="670.50" y1="366.00" x2="674.70" y2="366.00" stroke="#4a4849" stroke-width="0.85"/>
<line x1="670.50" y1="429.20" x2="674.70" y2="429.20" stroke="#4a4849" stroke-width="0.85"/>
<rect x="668.02" y="377.25" width="8.95" height="8.1" fill="#231f20"/>
<line x1="672.60" y1="347.20" x2="672.60" y2="380.00" stroke="#4a4849" stroke-width="0.85"/>
<line x1="670.50" y1="347.20" x2="674.70" y2="347.20" stroke="#4a4849" stroke-width="0.85"/>
<line x1="670.50" y1="380.00" x2="674.70" y2="380.00" stroke="#4a4849" stroke-width="0.85"/>
<ellipse cx="672.60" cy="365.75" rx="4.4" ry="3.92" fill="#fff" stroke="#231f20" stroke-width="1.4"/>
</g>
<line x1="411.50" y1="279.80" x2="411.50" y2="466.95" stroke="#575455" stroke-width="1.0"/>
<line x1="409.90" y1="466.45" x2="542.15" y2="466.45" stroke="#575455" stroke-width="1.0"/>
<line x1="556.40" y1="466.45" x2="685.00" y2="466.45" stroke="#575455" stroke-width="1.0"/>
<line x1="539.65" y1="471.80" x2="546.05" y2="460.30" stroke="#231f20" stroke-width="3.0"/>
<line x1="552.20" y1="471.80" x2="558.70" y2="460.30" stroke="#231f20" stroke-width="3.0"/>
<line x1="427.20" y1="466.45" x2="427.20" y2="470.45" stroke="#575455" stroke-width="1.0"/>
<line x1="505.90" y1="466.45" x2="505.90" y2="470.45" stroke="#575455" stroke-width="1.0"/>
<line x1="590.90" y1="466.45" x2="590.90" y2="470.45" stroke="#575455" stroke-width="1.0"/>
<line x1="672.60" y1="466.45" x2="672.60" y2="470.45" stroke="#575455" stroke-width="1.0"/>
<line x1="407.10" y1="300.10" x2="411.50" y2="300.10" stroke="#575455" stroke-width="1.0"/>
<line x1="407.10" y1="365.75" x2="411.50" y2="365.75" stroke="#575455" stroke-width="1.0"/>
<line x1="407.10" y1="431.80" x2="411.50" y2="431.80" stroke="#575455" stroke-width="1.0"/>
<line x1="409.20" y1="466.23" x2="411.50" y2="466.23" stroke="#575455" stroke-width="1.0"/>
<line x1="409.20" y1="458.00" x2="411.50" y2="458.00" stroke="#575455" stroke-width="1.0"/>
<line x1="409.20" y1="451.62" x2="411.50" y2="451.62" stroke="#575455" stroke-width="1.0"/>
<line x1="409.20" y1="446.41" x2="411.50" y2="446.41" stroke="#575455" stroke-width="1.0"/>
<line x1="409.20" y1="442.00" x2="411.50" y2="442.00" stroke="#575455" stroke-width="1.0"/>
<line x1="409.20" y1="438.18" x2="411.50" y2="438.18" stroke="#575455" stroke-width="1.0"/>
<line x1="409.20" y1="434.81" x2="411.50" y2="434.81" stroke="#575455" stroke-width="1.0"/>
<line x1="409.20" y1="411.98" x2="411.50" y2="411.98" stroke="#575455" stroke-width="1.0"/>
<line x1="409.20" y1="400.38" x2="411.50" y2="400.38" stroke="#575455" stroke-width="1.0"/>
<line x1="409.20" y1="392.15" x2="411.50" y2="392.15" stroke="#575455" stroke-width="1.0"/>
<line x1="409.20" y1="385.77" x2="411.50" y2="385.77" stroke="#575455" stroke-width="1.0"/>
<line x1="409.20" y1="380.56" x2="411.50" y2="380.56" stroke="#575455" stroke-width="1.0"/>
<line x1="409.20" y1="376.15" x2="411.50" y2="376.15" stroke="#575455" stroke-width="1.0"/>
<line x1="409.20" y1="372.33" x2="411.50" y2="372.33" stroke="#575455" stroke-width="1.0"/>
<line x1="409.20" y1="368.96" x2="411.50" y2="368.96" stroke="#575455" stroke-width="1.0"/>
<line x1="409.20" y1="346.13" x2="411.50" y2="346.13" stroke="#575455" stroke-width="1.0"/>
<line x1="409.20" y1="334.53" x2="411.50" y2="334.53" stroke="#575455" stroke-width="1.0"/>
<line x1="409.20" y1="326.30" x2="411.50" y2="326.30" stroke="#575455" stroke-width="1.0"/>
<line x1="409.20" y1="319.92" x2="411.50" y2="319.92" stroke="#575455" stroke-width="1.0"/>
<line x1="409.20" y1="314.71" x2="411.50" y2="314.71" stroke="#575455" stroke-width="1.0"/>
<line x1="409.20" y1="310.30" x2="411.50" y2="310.30" stroke="#575455" stroke-width="1.0"/>
<line x1="409.20" y1="306.48" x2="411.50" y2="306.48" stroke="#575455" stroke-width="1.0"/>
<line x1="409.20" y1="303.11" x2="411.50" y2="303.11" stroke="#575455" stroke-width="1.0"/>
<line x1="409.20" y1="280.28" x2="411.50" y2="280.28" stroke="#575455" stroke-width="1.0"/>
<line x1="409.20" y1="280.30" x2="411.50" y2="280.30" stroke="#575455" stroke-width="0.9"/>
<text x="379.37" y="304.61" font-size="12.6" font-family='"Liberation Sans", Arial, Helvetica, sans-serif' fill="#231f20" transform="rotate(0.03 379.37 304.61)" textLength="24.83" lengthAdjust="spacingAndGlyphs" stroke="#231f20" stroke-width="0.15">100</text>
<rect x="379.52" y="303.00" width="3.31" height="2.00" fill="#fff"/>
<rect x="384.72" y="303.00" width="3.37" height="2.00" fill="#fff"/>
<text x="387.99" y="370.26" font-size="12.6" font-family='"Liberation Sans", Arial, Helvetica, sans-serif' fill="#231f20" transform="rotate(0.03 387.99 370.26)" textLength="16.21" lengthAdjust="spacingAndGlyphs" stroke="#231f20" stroke-width="0.15">10</text>
<rect x="388.14" y="369.00" width="3.24" height="2.00" fill="#fff"/>
<rect x="393.23" y="369.00" width="3.30" height="2.00" fill="#fff"/>
<text x="396.61" y="436.31" font-size="12.6" font-family='"Liberation Sans", Arial, Helvetica, sans-serif' fill="#231f20" transform="rotate(0.03 396.61 436.31)" textLength="7.59" lengthAdjust="spacingAndGlyphs" stroke="#231f20" stroke-width="0.15">1</text>
<rect x="396.75" y="435.00" width="3.03" height="2.00" fill="#fff"/>
<rect x="401.52" y="435.00" width="3.09" height="2.00" fill="#fff"/>
<text x="421.85" y="486.29" font-size="14.5" font-family='"Liberation Sans", Arial, Helvetica, sans-serif' fill="#231f20" transform="rotate(0.03 421.85 486.29)" textLength="10.70" lengthAdjust="spacingAndGlyphs" stroke="#231f20" stroke-width="0.15">0</text>
<text x="500.55" y="486.29" font-size="14.5" font-family='"Liberation Sans", Arial, Helvetica, sans-serif' fill="#231f20" transform="rotate(0.03 500.55 486.29)" textLength="10.70" lengthAdjust="spacingAndGlyphs" stroke="#231f20" stroke-width="0.15">1</text>
<rect x="500.74" y="484.00" width="4.27" height="3.00" fill="#fff"/>
<rect x="507.46" y="484.00" width="4.36" height="3.00" fill="#fff"/>
<text x="585.55" y="486.29" font-size="14.5" font-family='"Liberation Sans", Arial, Helvetica, sans-serif' fill="#231f20" transform="rotate(0.03 585.55 486.29)" textLength="10.70" lengthAdjust="spacingAndGlyphs" stroke="#231f20" stroke-width="0.15">4</text>
<text x="667.25" y="486.29" font-size="14.5" font-family='"Liberation Sans", Arial, Helvetica, sans-serif' fill="#231f20" transform="rotate(0.03 667.25 486.29)" textLength="10.70" lengthAdjust="spacingAndGlyphs" stroke="#231f20" stroke-width="0.15">5</text>
<text x="440.40" y="502.65" font-size="14.6" font-family='"Liberation Sans", Arial, Helvetica, sans-serif' fill="#231f20" transform="rotate(0.03 440.40 502.65)" textLength="206.20" lengthAdjust="spacingAndGlyphs" stroke="#231f20" stroke-width="0.28" stroke-linejoin="round">Time after BrdU injection (week)</text>
<g transform="translate(368.90,455.40) rotate(-89.97)">
<text x="0.00" y="0.00" font-size="14.6" font-family='"Liberation Sans", Arial, Helvetica, sans-serif' fill="#231f20" textLength="159.50" lengthAdjust="spacingAndGlyphs" stroke="#231f20" stroke-width="0.28" stroke-linejoin="round">No. of BrdU+ type-1 cells</text>
<rect x="119.07" y="-1.90" width="3.18" height="3.00" fill="#fff"/>
<rect x="124.07" y="-1.90" width="3.24" height="3.00" fill="#fff"/>
</g>
<text x="360.60" y="282.20" font-size="25.3" font-family='"Liberation Sans", Arial, Helvetica, sans-serif' fill="#231f20" transform="rotate(0.03 360.60 282.20)" stroke="#231f20" stroke-width="0.25">d</text>
<text x="526.70" y="301.00" font-size="18.0" font-family='"Liberation Sans", Arial, Helvetica, sans-serif' fill="#231f20" transform="rotate(0.03 526.70 301.00)" stroke="#231f20" stroke-width="0.35">5 Gy</text>
<rect x="615.90" y="287.35" width="8.8" height="8.5" fill="#231f20"/>
<ellipse cx="621.10" cy="314.80" rx="4.45" ry="4.25" fill="#fff" stroke="#231f20" stroke-width="1.15"/>
<text x="629.30" y="296.50" font-size="14.6" font-family='"Liberation Sans", Arial, Helvetica, sans-serif' fill="#231f20" transform="rotate(0.03 629.30 296.50)" textLength="44.80" lengthAdjust="spacingAndGlyphs" stroke="#231f20" stroke-width="0.28" stroke-linejoin="round">p21+/+</text>
<rect x="645.44" y="295.00" width="3.20" height="2.00" fill="#fff"/>
<rect x="650.47" y="295.00" width="3.26" height="2.00" fill="#fff"/>
<text x="629.30" y="318.40" font-size="14.6" font-family='"Liberation Sans", Arial, Helvetica, sans-serif' fill="#231f20" transform="rotate(0.03 629.30 318.40)" textLength="43.80" lengthAdjust="spacingAndGlyphs" stroke="#231f20" stroke-width="0.28" stroke-linejoin="round">p21<tspan dy="-0.9" fill="#6a6a6c" stroke="none">–</tspan><tspan dy="0.9">/</tspan><tspan dy="-0.9" fill="#6a6a6c" stroke="none">–</tspan></text>
<rect x="645.37" y="317.00" width="3.18" height="2.00" fill="#fff"/>
<rect x="650.37" y="317.00" width="3.24" height="2.00" fill="#fff"/>
</g>
<g id="panel-e">
<clipPath id="clip-e"><rect x="55.5" y="541.7" width="278.5" height="191.20"/></clipPath>
<g clip-path="url(#clip-e)">
<line x1="71.40" y1="567.30" x2="71.40" y2="590.00" stroke="#4a4849" stroke-width="0.85"/>
<line x1="69.30" y1="567.30" x2="73.50" y2="567.30" stroke="#4a4849" stroke-width="0.85"/>
<line x1="69.30" y1="590.00" x2="73.50" y2="590.00" stroke="#4a4849" stroke-width="0.85"/>
<rect x="66.83" y="573.75" width="8.95" height="8.1" fill="#231f20"/>
<ellipse cx="71.40" cy="591.50" rx="4.4" ry="3.92" fill="#fff" stroke="#231f20" stroke-width="1.4"/>
<line x1="71.40" y1="582.20" x2="71.40" y2="613.20" stroke="#4a4849" stroke-width="0.85"/>
<line x1="69.30" y1="582.20" x2="73.50" y2="582.20" stroke="#4a4849" stroke-width="0.85"/>
<line x1="69.30" y1="613.20" x2="73.50" y2="613.20" stroke="#4a4849" stroke-width="0.85"/>
<line x1="86.80" y1="602.20" x2="86.80" y2="620.00" stroke="#4a4849" stroke-width="0.85"/>
<line x1="84.70" y1="602.20" x2="88.90" y2="602.20" stroke="#4a4849" stroke-width="0.85"/>
<line x1="84.70" y1="620.00" x2="88.90" y2="620.00" stroke="#4a4849" stroke-width="0.85"/>
<rect x="82.23" y="606.35" width="8.95" height="8.1" fill="#231f20"/>
<ellipse cx="86.80" cy="615.00" rx="4.4" ry="3.92" fill="#fff" stroke="#231f20" stroke-width="1.4"/>
<line x1="86.80" y1="616.00" x2="86.80" y2="638.60" stroke="#4a4849" stroke-width="0.85"/>
<line x1="84.70" y1="616.00" x2="88.90" y2="616.00" stroke="#4a4849" stroke-width="0.85"/>
<line x1="84.70" y1="638.60" x2="88.90" y2="638.60" stroke="#4a4849" stroke-width="0.85"/>
<line x1="150.00" y1="657.00" x2="150.00" y2="691.20" stroke="#4a4849" stroke-width="0.85"/>
<line x1="147.90" y1="657.00" x2="152.10" y2="657.00" stroke="#4a4849" stroke-width="0.85"/>
<line x1="147.90" y1="691.20" x2="152.10" y2="691.20" stroke="#4a4849" stroke-width="0.85"/>
<rect x="145.43" y="663.85" width="8.95" height="8.1" fill="#231f20"/>
<ellipse cx="150.00" cy="656.50" rx="4.4" ry="3.92" fill="#fff" stroke="#231f20" stroke-width="1.4"/>
<line x1="150.00" y1="644.60" x2="150.00" y2="680.20" stroke="#4a4849" stroke-width="0.85"/>
<line x1="147.90" y1="644.60" x2="152.10" y2="644.60" stroke="#4a4849" stroke-width="0.85"/>
<line x1="147.90" y1="680.20" x2="152.10" y2="680.20" stroke="#4a4849" stroke-width="0.85"/>
</g>
<line x1="55.50" y1="546.20" x2="55.50" y2="733.00" stroke="#575455" stroke-width="1.0"/>
<line x1="53.90" y1="732.50" x2="186.25" y2="732.50" stroke="#575455" stroke-width="1.0"/>
<line x1="200.50" y1="732.50" x2="329.00" y2="732.50" stroke="#575455" stroke-width="1.0"/>
<line x1="183.75" y1="737.85" x2="190.15" y2="726.35" stroke="#231f20" stroke-width="3.0"/>
<line x1="196.30" y1="737.85" x2="202.80" y2="726.35" stroke="#231f20" stroke-width="3.0"/>
<line x1="71.40" y1="732.50" x2="71.40" y2="736.50" stroke="#575455" stroke-width="1.0"/>
<line x1="150.00" y1="732.50" x2="150.00" y2="736.50" stroke="#575455" stroke-width="1.0"/>
<line x1="235.40" y1="732.50" x2="235.40" y2="736.50" stroke="#575455" stroke-width="1.0"/>
<line x1="316.50" y1="732.50" x2="316.50" y2="736.50" stroke="#575455" stroke-width="1.0"/>
<line x1="51.10" y1="590.50" x2="55.50" y2="590.50" stroke="#575455" stroke-width="1.0"/>
<line x1="51.10" y1="653.30" x2="55.50" y2="653.30" stroke="#575455" stroke-width="1.0"/>
<line x1="51.10" y1="716.10" x2="55.50" y2="716.10" stroke="#575455" stroke-width="1.0"/>
<line x1="53.20" y1="730.03" x2="55.50" y2="730.03" stroke="#575455" stroke-width="1.0"/>
<line x1="53.20" y1="725.83" x2="55.50" y2="725.83" stroke="#575455" stroke-width="1.0"/>
<line x1="53.20" y1="722.19" x2="55.50" y2="722.19" stroke="#575455" stroke-width="1.0"/>
<line x1="53.20" y1="718.97" x2="55.50" y2="718.97" stroke="#575455" stroke-width="1.0"/>
<line x1="53.20" y1="697.20" x2="55.50" y2="697.20" stroke="#575455" stroke-width="1.0"/>
<line x1="53.20" y1="686.14" x2="55.50" y2="686.14" stroke="#575455" stroke-width="1.0"/>
<line x1="53.20" y1="678.29" x2="55.50" y2="678.29" stroke="#575455" stroke-width="1.0"/>
<line x1="53.20" y1="672.20" x2="55.50" y2="672.20" stroke="#575455" stroke-width="1.0"/>
<line x1="53.20" y1="667.23" x2="55.50" y2="667.23" stroke="#575455" stroke-width="1.0"/>
<line x1="53.20" y1="663.03" x2="55.50" y2="663.03" stroke="#575455" stroke-width="1.0"/>
<line x1="53.20" y1="659.39" x2="55.50" y2="659.39" stroke="#575455" stroke-width="1.0"/>
<line x1="53.20" y1="656.17" x2="55.50" y2="656.17" stroke="#575455" stroke-width="1.0"/>
<line x1="53.20" y1="634.40" x2="55.50" y2="634.40" stroke="#575455" stroke-width="1.0"/>
<line x1="53.20" y1="623.34" x2="55.50" y2="623.34" stroke="#575455" stroke-width="1.0"/>
<line x1="53.20" y1="615.49" x2="55.50" y2="615.49" stroke="#575455" stroke-width="1.0"/>
<line x1="53.20" y1="609.40" x2="55.50" y2="609.40" stroke="#575455" stroke-width="1.0"/>
<line x1="53.20" y1="604.43" x2="55.50" y2="604.43" stroke="#575455" stroke-width="1.0"/>
<line x1="53.20" y1="600.23" x2="55.50" y2="600.23" stroke="#575455" stroke-width="1.0"/>
<line x1="53.20" y1="596.59" x2="55.50" y2="596.59" stroke="#575455" stroke-width="1.0"/>
<line x1="53.20" y1="593.37" x2="55.50" y2="593.37" stroke="#575455" stroke-width="1.0"/>
<line x1="53.20" y1="571.60" x2="55.50" y2="571.60" stroke="#575455" stroke-width="1.0"/>
<line x1="53.20" y1="560.54" x2="55.50" y2="560.54" stroke="#575455" stroke-width="1.0"/>
<line x1="53.20" y1="552.69" x2="55.50" y2="552.69" stroke="#575455" stroke-width="1.0"/>
<line x1="53.20" y1="546.60" x2="55.50" y2="546.60" stroke="#575455" stroke-width="1.0"/>
<line x1="53.20" y1="546.70" x2="55.50" y2="546.70" stroke="#575455" stroke-width="0.9"/>
<text x="23.37" y="595.01" font-size="12.6" font-family='"Liberation Sans", Arial, Helvetica, sans-serif' fill="#231f20" transform="rotate(0.03 23.37 595.01)" textLength="24.83" lengthAdjust="spacingAndGlyphs" stroke="#231f20" stroke-width="0.15">100</text>
<rect x="23.52" y="593.00" width="3.31" height="3.00" fill="#fff"/>
<rect x="28.72" y="593.00" width="3.37" height="3.00" fill="#fff"/>
<text x="31.99" y="657.81" font-size="12.6" font-family='"Liberation Sans", Arial, Helvetica, sans-serif' fill="#231f20" transform="rotate(0.03 31.99 657.81)" textLength="16.21" lengthAdjust="spacingAndGlyphs" stroke="#231f20" stroke-width="0.15">10</text>
<rect x="32.14" y="656.00" width="3.24" height="3.00" fill="#fff"/>
<rect x="37.23" y="656.00" width="3.30" height="3.00" fill="#fff"/>
<text x="40.61" y="720.61" font-size="12.6" font-family='"Liberation Sans", Arial, Helvetica, sans-serif' fill="#231f20" transform="rotate(0.03 40.61 720.61)" textLength="7.59" lengthAdjust="spacingAndGlyphs" stroke="#231f20" stroke-width="0.15">1</text>
<rect x="40.75" y="719.00" width="3.03" height="2.00" fill="#fff"/>
<rect x="45.52" y="719.00" width="3.09" height="2.00" fill="#fff"/>
<text x="66.65" y="751.29" font-size="13.4" font-family='"Liberation Sans", Arial, Helvetica, sans-serif' fill="#231f20" transform="rotate(0.03 66.65 751.29)" textLength="9.50" lengthAdjust="spacingAndGlyphs" stroke="#231f20" stroke-width="0.15">0</text>
<text x="145.25" y="751.29" font-size="13.4" font-family='"Liberation Sans", Arial, Helvetica, sans-serif' fill="#231f20" transform="rotate(0.03 145.25 751.29)" textLength="9.50" lengthAdjust="spacingAndGlyphs" stroke="#231f20" stroke-width="0.15">1</text>
<rect x="145.42" y="749.00" width="3.79" height="3.00" fill="#fff"/>
<rect x="151.39" y="749.00" width="3.87" height="3.00" fill="#fff"/>
<text x="230.65" y="751.29" font-size="13.4" font-family='"Liberation Sans", Arial, Helvetica, sans-serif' fill="#231f20" transform="rotate(0.03 230.65 751.29)" textLength="9.50" lengthAdjust="spacingAndGlyphs" stroke="#231f20" stroke-width="0.15">4</text>
<text x="311.75" y="751.29" font-size="13.4" font-family='"Liberation Sans", Arial, Helvetica, sans-serif' fill="#231f20" transform="rotate(0.03 311.75 751.29)" textLength="9.50" lengthAdjust="spacingAndGlyphs" stroke="#231f20" stroke-width="0.15">5</text>
<text x="87.90" y="769.70" font-size="14.6" font-family='"Liberation Sans", Arial, Helvetica, sans-serif' fill="#231f20" transform="rotate(0.03 87.90 769.70)" textLength="206.30" lengthAdjust="spacingAndGlyphs" stroke="#231f20" stroke-width="0.28" stroke-linejoin="round">Time after BrdU injection (week)</text>
<g transform="translate(12.50,721.80) rotate(-89.97)">
<text x="0.00" y="0.00" font-size="14.6" font-family='"Liberation Sans", Arial, Helvetica, sans-serif' fill="#231f20" textLength="167.90" lengthAdjust="spacingAndGlyphs" stroke="#231f20" stroke-width="0.28" stroke-linejoin="round">No. of BrdU+ type-2a cells</text>
</g>
<text x="0.90" y="546.60" font-size="26.3" font-family='"Liberation Sans", Arial, Helvetica, sans-serif' fill="#231f20" transform="rotate(0.03 0.90 546.60)" stroke="#231f20" stroke-width="0.25">e</text>
<text x="170.70" y="567.40" font-size="18.0" font-family='"Liberation Sans", Arial, Helvetica, sans-serif' fill="#231f20" transform="rotate(0.03 170.70 567.40)" stroke="#231f20" stroke-width="0.35">0 Gy</text>
<rect x="259.60" y="553.25" width="8.8" height="8.5" fill="#231f20"/>
<ellipse cx="264.70" cy="580.60" rx="4.45" ry="4.25" fill="#fff" stroke="#231f20" stroke-width="1.15"/>
<text x="273.50" y="562.40" font-size="14.6" font-family='"Liberation Sans", Arial, Helvetica, sans-serif' fill="#231f20" transform="rotate(0.03 273.50 562.40)" textLength="44.30" lengthAdjust="spacingAndGlyphs" stroke="#231f20" stroke-width="0.28" stroke-linejoin="round">p21+/+</text>
<rect x="289.46" y="561.00" width="3.16" height="2.00" fill="#fff"/>
<rect x="294.43" y="561.00" width="3.22" height="2.00" fill="#fff"/>
<text x="273.50" y="584.30" font-size="14.6" font-family='"Liberation Sans", Arial, Helvetica, sans-serif' fill="#231f20" transform="rotate(0.03 273.50 584.30)" textLength="43.30" lengthAdjust="spacingAndGlyphs" stroke="#231f20" stroke-width="0.28" stroke-linejoin="round">p21<tspan dy="-0.9" fill="#6a6a6c" stroke="none">–</tspan><tspan dy="0.9">/</tspan><tspan dy="-0.9" fill="#6a6a6c" stroke="none">–</tspan></text>
<rect x="289.39" y="582.00" width="3.15" height="3.00" fill="#fff"/>
<rect x="294.33" y="582.00" width="3.21" height="3.00" fill="#fff"/>
</g>
<g id="panel-f">
<clipPath id="clip-f"><rect x="411.5" y="541.7" width="278.5" height="191.20"/></clipPath>
<g clip-path="url(#clip-f)">
<line x1="427.20" y1="615.30" x2="427.20" y2="645.10" stroke="#4a4849" stroke-width="0.85"/>
<line x1="425.10" y1="615.30" x2="429.30" y2="615.30" stroke="#4a4849" stroke-width="0.85"/>
<line x1="425.10" y1="645.10" x2="429.30" y2="645.10" stroke="#4a4849" stroke-width="0.85"/>
<rect x="422.62" y="621.75" width="8.95" height="8.1" fill="#231f20"/>
<ellipse cx="427.20" cy="603.10" rx="4.1000000000000005" ry="3.4699999999999998" fill="#fff" stroke="#231f20" stroke-width="2.0"/>
<line x1="443.00" y1="627.10" x2="443.00" y2="650.00" stroke="#4a4849" stroke-width="0.85"/>
<line x1="440.90" y1="627.10" x2="445.10" y2="627.10" stroke="#4a4849" stroke-width="0.85"/>
<line x1="440.90" y1="650.00" x2="445.10" y2="650.00" stroke="#4a4849" stroke-width="0.85"/>
<rect x="438.42" y="637.55" width="8.95" height="8.1" fill="#231f20"/>
<line x1="443.00" y1="634.60" x2="443.00" y2="676.60" stroke="#4a4849" stroke-width="0.85"/>
<line x1="440.90" y1="634.60" x2="445.10" y2="634.60" stroke="#4a4849" stroke-width="0.85"/>
<line x1="440.90" y1="676.60" x2="445.10" y2="676.60" stroke="#4a4849" stroke-width="0.85"/>
<ellipse cx="443.00" cy="647.70" rx="4.4" ry="3.92" fill="#fff" stroke="#231f20" stroke-width="1.4"/>
<line x1="506.30" y1="723.40" x2="506.30" y2="731.50" stroke="#4a4849" stroke-width="0.85"/>
<line x1="504.20" y1="723.40" x2="508.40" y2="723.40" stroke="#4a4849" stroke-width="0.85"/>
<line x1="504.20" y1="731.50" x2="508.40" y2="731.50" stroke="#4a4849" stroke-width="0.85"/>
<rect x="501.72" y="727.45" width="8.95" height="8.1" fill="#231f20"/>
<line x1="506.30" y1="671.00" x2="506.30" y2="716.10" stroke="#4a4849" stroke-width="0.85"/>
<line x1="504.20" y1="671.00" x2="508.40" y2="671.00" stroke="#4a4849" stroke-width="0.85"/>
<line x1="504.20" y1="716.10" x2="508.40" y2="716.10" stroke="#4a4849" stroke-width="0.85"/>
<ellipse cx="506.30" cy="685.10" rx="4.4" ry="3.92" fill="#fff" stroke="#231f20" stroke-width="1.4"/>
</g>
<line x1="411.50" y1="546.20" x2="411.50" y2="733.00" stroke="#575455" stroke-width="1.0"/>
<line x1="409.90" y1="732.50" x2="542.15" y2="732.50" stroke="#575455" stroke-width="1.0"/>
<line x1="556.40" y1="732.50" x2="685.00" y2="732.50" stroke="#575455" stroke-width="1.0"/>
<line x1="539.65" y1="737.85" x2="546.05" y2="726.35" stroke="#231f20" stroke-width="3.0"/>
<line x1="552.20" y1="737.85" x2="558.70" y2="726.35" stroke="#231f20" stroke-width="3.0"/>
<line x1="427.20" y1="732.50" x2="427.20" y2="736.50" stroke="#575455" stroke-width="1.0"/>
<line x1="505.90" y1="732.50" x2="505.90" y2="736.50" stroke="#575455" stroke-width="1.0"/>
<line x1="591.30" y1="732.50" x2="591.30" y2="736.50" stroke="#575455" stroke-width="1.0"/>
<line x1="672.70" y1="732.50" x2="672.70" y2="736.50" stroke="#575455" stroke-width="1.0"/>
<line x1="407.10" y1="589.90" x2="411.50" y2="589.90" stroke="#575455" stroke-width="1.0"/>
<line x1="407.10" y1="652.10" x2="411.50" y2="652.10" stroke="#575455" stroke-width="1.0"/>
<line x1="407.10" y1="714.30" x2="411.50" y2="714.30" stroke="#575455" stroke-width="1.0"/>
<line x1="409.20" y1="728.10" x2="411.50" y2="728.10" stroke="#575455" stroke-width="1.0"/>
<line x1="409.20" y1="723.93" x2="411.50" y2="723.93" stroke="#575455" stroke-width="1.0"/>
<line x1="409.20" y1="720.33" x2="411.50" y2="720.33" stroke="#575455" stroke-width="1.0"/>
<line x1="409.20" y1="717.15" x2="411.50" y2="717.15" stroke="#575455" stroke-width="1.0"/>
<line x1="409.20" y1="695.58" x2="411.50" y2="695.58" stroke="#575455" stroke-width="1.0"/>
<line x1="409.20" y1="684.62" x2="411.50" y2="684.62" stroke="#575455" stroke-width="1.0"/>
<line x1="409.20" y1="676.85" x2="411.50" y2="676.85" stroke="#575455" stroke-width="1.0"/>
<line x1="409.20" y1="670.82" x2="411.50" y2="670.82" stroke="#575455" stroke-width="1.0"/>
<line x1="409.20" y1="665.90" x2="411.50" y2="665.90" stroke="#575455" stroke-width="1.0"/>
<line x1="409.20" y1="661.73" x2="411.50" y2="661.73" stroke="#575455" stroke-width="1.0"/>
<line x1="409.20" y1="658.13" x2="411.50" y2="658.13" stroke="#575455" stroke-width="1.0"/>
<line x1="409.20" y1="654.95" x2="411.50" y2="654.95" stroke="#575455" stroke-width="1.0"/>
<line x1="409.20" y1="633.38" x2="411.50" y2="633.38" stroke="#575455" stroke-width="1.0"/>
<line x1="409.20" y1="622.42" x2="411.50" y2="622.42" stroke="#575455" stroke-width="1.0"/>
<line x1="409.20" y1="614.65" x2="411.50" y2="614.65" stroke="#575455" stroke-width="1.0"/>
<line x1="409.20" y1="608.62" x2="411.50" y2="608.62" stroke="#575455" stroke-width="1.0"/>
<line x1="409.20" y1="603.70" x2="411.50" y2="603.70" stroke="#575455" stroke-width="1.0"/>
<line x1="409.20" y1="599.53" x2="411.50" y2="599.53" stroke="#575455" stroke-width="1.0"/>
<line x1="409.20" y1="595.93" x2="411.50" y2="595.93" stroke="#575455" stroke-width="1.0"/>
<line x1="409.20" y1="592.75" x2="411.50" y2="592.75" stroke="#575455" stroke-width="1.0"/>
<line x1="409.20" y1="571.18" x2="411.50" y2="571.18" stroke="#575455" stroke-width="1.0"/>
<line x1="409.20" y1="560.22" x2="411.50" y2="560.22" stroke="#575455" stroke-width="1.0"/>
<line x1="409.20" y1="552.45" x2="411.50" y2="552.45" stroke="#575455" stroke-width="1.0"/>
<line x1="409.20" y1="546.42" x2="411.50" y2="546.42" stroke="#575455" stroke-width="1.0"/>
<line x1="409.20" y1="546.70" x2="411.50" y2="546.70" stroke="#575455" stroke-width="0.9"/>
<text x="379.37" y="594.41" font-size="12.6" font-family='"Liberation Sans", Arial, Helvetica, sans-serif' fill="#231f20" transform="rotate(0.03 379.37 594.41)" textLength="24.83" lengthAdjust="spacingAndGlyphs" stroke="#231f20" stroke-width="0.15">100</text>
<rect x="379.52" y="593.00" width="3.31" height="2.00" fill="#fff"/>
<rect x="384.72" y="593.00" width="3.37" height="2.00" fill="#fff"/>
<text x="387.99" y="656.61" font-size="12.6" font-family='"Liberation Sans", Arial, Helvetica, sans-serif' fill="#231f20" transform="rotate(0.03 387.99 656.61)" textLength="16.21" lengthAdjust="spacingAndGlyphs" stroke="#231f20" stroke-width="0.15">10</text>
<rect x="388.14" y="655.00" width="3.24" height="2.00" fill="#fff"/>
<rect x="393.23" y="655.00" width="3.30" height="2.00" fill="#fff"/>
<text x="396.61" y="718.81" font-size="12.6" font-family='"Liberation Sans", Arial, Helvetica, sans-serif' fill="#231f20" transform="rotate(0.03 396.61 718.81)" textLength="7.59" lengthAdjust="spacingAndGlyphs" stroke="#231f20" stroke-width="0.15">1</text>
<rect x="396.75" y="717.00" width="3.03" height="3.00" fill="#fff"/>
<rect x="401.52" y="717.00" width="3.09" height="3.00" fill="#fff"/>
<text x="422.45" y="751.29" font-size="13.0" font-family='"Liberation Sans", Arial, Helvetica, sans-serif' fill="#231f20" transform="rotate(0.03 422.45 751.29)" textLength="9.50" lengthAdjust="spacingAndGlyphs" stroke="#231f20" stroke-width="0.15">0</text>
<text x="501.15" y="751.29" font-size="13.0" font-family='"Liberation Sans", Arial, Helvetica, sans-serif' fill="#231f20" transform="rotate(0.03 501.15 751.29)" textLength="9.50" lengthAdjust="spacingAndGlyphs" stroke="#231f20" stroke-width="0.15">1</text>
<rect x="501.32" y="750.00" width="3.79" height="2.00" fill="#fff"/>
<rect x="507.29" y="750.00" width="3.87" height="2.00" fill="#fff"/>
<text x="586.55" y="751.29" font-size="13.0" font-family='"Liberation Sans", Arial, Helvetica, sans-serif' fill="#231f20" transform="rotate(0.03 586.55 751.29)" textLength="9.50" lengthAdjust="spacingAndGlyphs" stroke="#231f20" stroke-width="0.15">4</text>
<text x="667.95" y="751.29" font-size="13.0" font-family='"Liberation Sans", Arial, Helvetica, sans-serif' fill="#231f20" transform="rotate(0.03 667.95 751.29)" textLength="9.50" lengthAdjust="spacingAndGlyphs" stroke="#231f20" stroke-width="0.15">5</text>
<text x="440.40" y="769.70" font-size="14.6" font-family='"Liberation Sans", Arial, Helvetica, sans-serif' fill="#231f20" transform="rotate(0.03 440.40 769.70)" textLength="206.20" lengthAdjust="spacingAndGlyphs" stroke="#231f20" stroke-width="0.28" stroke-linejoin="round">Time after BrdU injection (week)</text>
<g transform="translate(370.90,721.80) rotate(-89.97)">
<text x="0.00" y="0.00" font-size="14.6" font-family='"Liberation Sans", Arial, Helvetica, sans-serif' fill="#231f20" textLength="167.90" lengthAdjust="spacingAndGlyphs" stroke="#231f20" stroke-width="0.28" stroke-linejoin="round">No. of BrdU+ type-2a cells</text>
</g>
<text x="361.20" y="546.00" font-size="25.3" font-family='"Liberation Sans", Arial, Helvetica, sans-serif' fill="#231f20" transform="rotate(0.03 361.20 546.00)" stroke="#231f20" stroke-width="0.5">f</text>
<text x="526.70" y="567.40" font-size="18.0" font-family='"Liberation Sans", Arial, Helvetica, sans-serif' fill="#231f20" transform="rotate(0.03 526.70 567.40)" stroke="#231f20" stroke-width="0.35">5 Gy</text>
<rect x="615.90" y="553.25" width="8.8" height="8.5" fill="#231f20"/>
<ellipse cx="621.10" cy="580.60" rx="4.45" ry="4.25" fill="#fff" stroke="#231f20" stroke-width="1.15"/>
<text x="629.30" y="562.40" font-size="14.6" font-family='"Liberation Sans", Arial, Helvetica, sans-serif' fill="#231f20" transform="rotate(0.03 629.30 562.40)" textLength="44.80" lengthAdjust="spacingAndGlyphs" stroke="#231f20" stroke-width="0.28" stroke-linejoin="round">p21+/+</text>
<rect x="645.44" y="561.00" width="3.20" height="2.00" fill="#fff"/>
<rect x="650.47" y="561.00" width="3.26" height="2.00" fill="#fff"/>
<text x="629.30" y="584.30" font-size="14.6" font-family='"Liberation Sans", Arial, Helvetica, sans-serif' fill="#231f20" transform="rotate(0.03 629.30 584.30)" textLength="43.80" lengthAdjust="spacingAndGlyphs" stroke="#231f20" stroke-width="0.28" stroke-linejoin="round">p21<tspan dy="-0.9" fill="#6a6a6c" stroke="none">–</tspan><tspan dy="0.9">/</tspan><tspan dy="-0.9" fill="#6a6a6c" stroke="none">–</tspan></text>
<rect x="645.37" y="582.00" width="3.18" height="3.00" fill="#fff"/>
<rect x="650.37" y="582.00" width="3.24" height="3.00" fill="#fff"/>
<text x="422.05" y="600.80" font-size="28.5" font-family='"Liberation Serif", "Times New Roman", serif' fill="#231f20" transform="rotate(0.03 422.05 600.80)" textLength="11.50" lengthAdjust="spacingAndGlyphs" stroke="#231f20" stroke-width="0.25" stroke-linejoin="round">*</text>
</g>
<g id="panel-g">
<clipPath id="clip-g"><rect x="55.5" y="806.5" width="278.5" height="191.35"/></clipPath>
<g clip-path="url(#clip-g)">
<line x1="71.40" y1="850.00" x2="71.40" y2="877.20" stroke="#4a4849" stroke-width="0.85"/>
<line x1="69.30" y1="850.00" x2="73.50" y2="850.00" stroke="#4a4849" stroke-width="0.85"/>
<line x1="69.30" y1="877.20" x2="73.50" y2="877.20" stroke="#4a4849" stroke-width="0.85"/>
<rect x="66.83" y="852.65" width="8.95" height="8.1" fill="#231f20"/>
<ellipse cx="71.40" cy="849.10" rx="4.4" ry="3.92" fill="#fff" stroke="#231f20" stroke-width="1.4"/>
<line x1="71.40" y1="844.40" x2="71.40" y2="853.50" stroke="#4a4849" stroke-width="0.85"/>
<line x1="69.30" y1="844.40" x2="73.50" y2="844.40" stroke="#4a4849" stroke-width="0.85"/>
<line x1="69.30" y1="853.50" x2="73.50" y2="853.50" stroke="#4a4849" stroke-width="0.85"/>
<line x1="86.80" y1="840.00" x2="86.80" y2="873.00" stroke="#4a4849" stroke-width="0.85"/>
<line x1="84.70" y1="840.00" x2="88.90" y2="840.00" stroke="#4a4849" stroke-width="0.85"/>
<line x1="84.70" y1="873.00" x2="88.90" y2="873.00" stroke="#4a4849" stroke-width="0.85"/>
<rect x="82.23" y="842.65" width="8.95" height="8.1" fill="#231f20"/>
<ellipse cx="86.80" cy="840.90" rx="4.4" ry="3.92" fill="#fff" stroke="#231f20" stroke-width="1.4"/>
<line x1="86.80" y1="833.40" x2="86.80" y2="845.00" stroke="#4a4849" stroke-width="0.85"/>
<line x1="84.70" y1="833.40" x2="88.90" y2="833.40" stroke="#4a4849" stroke-width="0.85"/>
<line x1="84.70" y1="845.00" x2="88.90" y2="845.00" stroke="#4a4849" stroke-width="0.85"/>
<line x1="150.00" y1="918.90" x2="150.00" y2="954.30" stroke="#4a4849" stroke-width="0.85"/>
<line x1="147.90" y1="918.90" x2="152.10" y2="918.90" stroke="#4a4849" stroke-width="0.85"/>
<line x1="147.90" y1="954.30" x2="152.10" y2="954.30" stroke="#4a4849" stroke-width="0.85"/>
<rect x="145.43" y="927.05" width="8.95" height="8.1" fill="#231f20"/>
<line x1="150.00" y1="859.70" x2="150.00" y2="895.60" stroke="#4a4849" stroke-width="0.85"/>
<line x1="147.90" y1="859.70" x2="152.10" y2="859.70" stroke="#4a4849" stroke-width="0.85"/>
<line x1="147.90" y1="895.60" x2="152.10" y2="895.60" stroke="#4a4849" stroke-width="0.85"/>
<ellipse cx="150.00" cy="871.90" rx="4.4" ry="3.92" fill="#fff" stroke="#231f20" stroke-width="1.4"/>
</g>
<line x1="55.50" y1="811.00" x2="55.50" y2="997.95" stroke="#575455" stroke-width="1.0"/>
<line x1="53.90" y1="997.45" x2="186.25" y2="997.45" stroke="#575455" stroke-width="1.0"/>
<line x1="200.50" y1="997.45" x2="329.00" y2="997.45" stroke="#575455" stroke-width="1.0"/>
<line x1="183.75" y1="1002.80" x2="190.15" y2="991.30" stroke="#231f20" stroke-width="3.0"/>
<line x1="196.30" y1="1002.80" x2="202.80" y2="991.30" stroke="#231f20" stroke-width="3.0"/>
<line x1="71.40" y1="997.45" x2="71.40" y2="1001.45" stroke="#575455" stroke-width="1.0"/>
<line x1="150.00" y1="997.45" x2="150.00" y2="1001.45" stroke="#575455" stroke-width="1.0"/>
<line x1="235.40" y1="997.45" x2="235.40" y2="1001.45" stroke="#575455" stroke-width="1.0"/>
<line x1="316.50" y1="997.45" x2="316.50" y2="1001.45" stroke="#575455" stroke-width="1.0"/>
<line x1="51.10" y1="854.60" x2="55.50" y2="854.60" stroke="#575455" stroke-width="1.0"/>
<line x1="51.10" y1="916.60" x2="55.50" y2="916.60" stroke="#575455" stroke-width="1.0"/>
<line x1="51.10" y1="978.40" x2="55.50" y2="978.40" stroke="#575455" stroke-width="1.0"/>
<line x1="53.20" y1="997.03" x2="55.50" y2="997.03" stroke="#575455" stroke-width="1.0"/>
<line x1="53.20" y1="992.13" x2="55.50" y2="992.13" stroke="#575455" stroke-width="1.0"/>
<line x1="53.20" y1="987.99" x2="55.50" y2="987.99" stroke="#575455" stroke-width="1.0"/>
<line x1="53.20" y1="984.40" x2="55.50" y2="984.40" stroke="#575455" stroke-width="1.0"/>
<line x1="53.20" y1="981.23" x2="55.50" y2="981.23" stroke="#575455" stroke-width="1.0"/>
<line x1="53.20" y1="959.77" x2="55.50" y2="959.77" stroke="#575455" stroke-width="1.0"/>
<line x1="53.20" y1="948.87" x2="55.50" y2="948.87" stroke="#575455" stroke-width="1.0"/>
<line x1="53.20" y1="941.13" x2="55.50" y2="941.13" stroke="#575455" stroke-width="1.0"/>
<line x1="53.20" y1="935.13" x2="55.50" y2="935.13" stroke="#575455" stroke-width="1.0"/>
<line x1="53.20" y1="930.23" x2="55.50" y2="930.23" stroke="#575455" stroke-width="1.0"/>
<line x1="53.20" y1="926.09" x2="55.50" y2="926.09" stroke="#575455" stroke-width="1.0"/>
<line x1="53.20" y1="922.50" x2="55.50" y2="922.50" stroke="#575455" stroke-width="1.0"/>
<line x1="53.20" y1="919.33" x2="55.50" y2="919.33" stroke="#575455" stroke-width="1.0"/>
<line x1="53.20" y1="897.87" x2="55.50" y2="897.87" stroke="#575455" stroke-width="1.0"/>
<line x1="53.20" y1="886.97" x2="55.50" y2="886.97" stroke="#575455" stroke-width="1.0"/>
<line x1="53.20" y1="879.23" x2="55.50" y2="879.23" stroke="#575455" stroke-width="1.0"/>
<line x1="53.20" y1="873.23" x2="55.50" y2="873.23" stroke="#575455" stroke-width="1.0"/>
<line x1="53.20" y1="868.33" x2="55.50" y2="868.33" stroke="#575455" stroke-width="1.0"/>
<line x1="53.20" y1="864.19" x2="55.50" y2="864.19" stroke="#575455" stroke-width="1.0"/>
<line x1="53.20" y1="860.60" x2="55.50" y2="860.60" stroke="#575455" stroke-width="1.0"/>
<line x1="53.20" y1="857.43" x2="55.50" y2="857.43" stroke="#575455" stroke-width="1.0"/>
<line x1="53.20" y1="835.97" x2="55.50" y2="835.97" stroke="#575455" stroke-width="1.0"/>
<line x1="53.20" y1="825.07" x2="55.50" y2="825.07" stroke="#575455" stroke-width="1.0"/>
<line x1="53.20" y1="817.33" x2="55.50" y2="817.33" stroke="#575455" stroke-width="1.0"/>
<line x1="53.20" y1="811.33" x2="55.50" y2="811.33" stroke="#575455" stroke-width="1.0"/>
<line x1="53.20" y1="811.50" x2="55.50" y2="811.50" stroke="#575455" stroke-width="0.9"/>
<text x="23.37" y="859.11" font-size="12.6" font-family='"Liberation Sans", Arial, Helvetica, sans-serif' fill="#231f20" transform="rotate(0.03 23.37 859.11)" textLength="24.83" lengthAdjust="spacingAndGlyphs" stroke="#231f20" stroke-width="0.15">100</text>
<rect x="23.52" y="857.00" width="3.31" height="3.00" fill="#fff"/>
<rect x="28.72" y="857.00" width="3.37" height="3.00" fill="#fff"/>
<text x="31.99" y="921.11" font-size="12.6" font-family='"Liberation Sans", Arial, Helvetica, sans-serif' fill="#231f20" transform="rotate(0.03 31.99 921.11)" textLength="16.21" lengthAdjust="spacingAndGlyphs" stroke="#231f20" stroke-width="0.15">10</text>
<rect x="32.14" y="919.00" width="3.24" height="3.00" fill="#fff"/>
<rect x="37.23" y="919.00" width="3.30" height="3.00" fill="#fff"/>
<text x="40.61" y="982.91" font-size="12.6" font-family='"Liberation Sans", Arial, Helvetica, sans-serif' fill="#231f20" transform="rotate(0.03 40.61 982.91)" textLength="7.59" lengthAdjust="spacingAndGlyphs" stroke="#231f20" stroke-width="0.15">1</text>
<rect x="40.75" y="981.00" width="3.03" height="3.00" fill="#fff"/>
<rect x="45.52" y="981.00" width="3.09" height="3.00" fill="#fff"/>
<text x="66.65" y="1016.13" font-size="13.5" font-family='"Liberation Sans", Arial, Helvetica, sans-serif' fill="#231f20" transform="rotate(0.03 66.65 1016.13)" textLength="9.50" lengthAdjust="spacingAndGlyphs" stroke="#231f20" stroke-width="0.15">0</text>
<text x="145.25" y="1016.13" font-size="13.5" font-family='"Liberation Sans", Arial, Helvetica, sans-serif' fill="#231f20" transform="rotate(0.03 145.25 1016.13)" textLength="9.50" lengthAdjust="spacingAndGlyphs" stroke="#231f20" stroke-width="0.15">1</text>
<rect x="145.42" y="1014.00" width="3.79" height="3.00" fill="#fff"/>
<rect x="151.39" y="1014.00" width="3.87" height="3.00" fill="#fff"/>
<text x="230.65" y="1016.13" font-size="13.5" font-family='"Liberation Sans", Arial, Helvetica, sans-serif' fill="#231f20" transform="rotate(0.03 230.65 1016.13)" textLength="9.50" lengthAdjust="spacingAndGlyphs" stroke="#231f20" stroke-width="0.15">4</text>
<text x="311.75" y="1016.13" font-size="13.5" font-family='"Liberation Sans", Arial, Helvetica, sans-serif' fill="#231f20" transform="rotate(0.03 311.75 1016.13)" textLength="9.50" lengthAdjust="spacingAndGlyphs" stroke="#231f20" stroke-width="0.15">5</text>
<text x="87.90" y="1031.70" font-size="14.6" font-family='"Liberation Sans", Arial, Helvetica, sans-serif' fill="#231f20" transform="rotate(0.03 87.90 1031.70)" textLength="206.30" lengthAdjust="spacingAndGlyphs" stroke="#231f20" stroke-width="0.28" stroke-linejoin="round">Time after BrdU injection (week)</text>
<g transform="translate(11.20,987.40) rotate(-89.97)">
<text x="0.00" y="0.00" font-size="14.6" font-family='"Liberation Sans", Arial, Helvetica, sans-serif' fill="#231f20" textLength="167.50" lengthAdjust="spacingAndGlyphs" stroke="#231f20" stroke-width="0.28" stroke-linejoin="round">No. of BrdU+ type-2b cells</text>
</g>
<text x="0.90" y="797.00" font-size="25.4" font-family='"Liberation Sans", Arial, Helvetica, sans-serif' fill="#231f20" transform="rotate(0.03 0.90 797.00)" stroke="#231f20" stroke-width="0.25">g</text>
<text x="170.70" y="830.20" font-size="18.0" font-family='"Liberation Sans", Arial, Helvetica, sans-serif' fill="#231f20" transform="rotate(0.03 170.70 830.20)" stroke="#231f20" stroke-width="0.35">0 Gy</text>
<rect x="259.60" y="816.15" width="8.8" height="8.5" fill="#231f20"/>
<ellipse cx="264.70" cy="843.50" rx="4.45" ry="4.25" fill="#fff" stroke="#231f20" stroke-width="1.15"/>
<text x="273.50" y="825.10" font-size="14.6" font-family='"Liberation Sans", Arial, Helvetica, sans-serif' fill="#231f20" transform="rotate(0.03 273.50 825.10)" textLength="44.30" lengthAdjust="spacingAndGlyphs" stroke="#231f20" stroke-width="0.28" stroke-linejoin="round">p21+/+</text>
<rect x="289.46" y="823.00" width="3.16" height="3.00" fill="#fff"/>
<rect x="294.43" y="823.00" width="3.22" height="3.00" fill="#fff"/>
<text x="273.50" y="847.50" font-size="14.6" font-family='"Liberation Sans", Arial, Helvetica, sans-serif' fill="#231f20" transform="rotate(0.03 273.50 847.50)" textLength="43.30" lengthAdjust="spacingAndGlyphs" stroke="#231f20" stroke-width="0.28" stroke-linejoin="round">p21<tspan dy="-0.9" fill="#6a6a6c" stroke="none">–</tspan><tspan dy="0.9">/</tspan><tspan dy="-0.9" fill="#6a6a6c" stroke="none">–</tspan></text>
<rect x="289.39" y="846.00" width="3.15" height="2.00" fill="#fff"/>
<rect x="294.33" y="846.00" width="3.21" height="2.00" fill="#fff"/>
</g>
<g id="panel-h">
<clipPath id="clip-h"><rect x="411.5" y="805.3" width="278.5" height="191.60"/></clipPath>
<g clip-path="url(#clip-h)">
<line x1="427.20" y1="871.00" x2="427.20" y2="879.50" stroke="#4a4849" stroke-width="0.85"/>
<line x1="425.10" y1="871.00" x2="429.30" y2="871.00" stroke="#4a4849" stroke-width="0.85"/>
<line x1="425.10" y1="879.50" x2="429.30" y2="879.50" stroke="#4a4849" stroke-width="0.85"/>
<rect x="422.62" y="870.15" width="8.95" height="8.1" fill="#231f20"/>
<line x1="427.20" y1="921.50" x2="427.20" y2="983.30" stroke="#4a4849" stroke-width="0.85"/>
<line x1="425.10" y1="921.50" x2="429.30" y2="921.50" stroke="#4a4849" stroke-width="0.85"/>
<line x1="425.10" y1="983.30" x2="429.30" y2="983.30" stroke="#4a4849" stroke-width="0.85"/>
<ellipse cx="427.20" cy="938.10" rx="4.4" ry="3.92" fill="#fff" stroke="#231f20" stroke-width="1.4"/>
<line x1="443.00" y1="878.60" x2="443.00" y2="891.20" stroke="#4a4849" stroke-width="0.85"/>
<line x1="440.90" y1="878.60" x2="445.10" y2="878.60" stroke="#4a4849" stroke-width="0.85"/>
<line x1="440.90" y1="891.20" x2="445.10" y2="891.20" stroke="#4a4849" stroke-width="0.85"/>
<rect x="438.42" y="880.15" width="8.95" height="8.1" fill="#231f20"/>
<line x1="443.00" y1="907.00" x2="443.00" y2="942.20" stroke="#4a4849" stroke-width="0.85"/>
<line x1="440.90" y1="907.00" x2="445.10" y2="907.00" stroke="#4a4849" stroke-width="0.85"/>
<line x1="440.90" y1="942.20" x2="445.10" y2="942.20" stroke="#4a4849" stroke-width="0.85"/>
<ellipse cx="443.00" cy="919.20" rx="4.4" ry="3.92" fill="#fff" stroke="#231f20" stroke-width="1.4"/>
<line x1="506.30" y1="919.40" x2="506.30" y2="947.50" stroke="#4a4849" stroke-width="0.85"/>
<line x1="504.20" y1="919.40" x2="508.40" y2="919.40" stroke="#4a4849" stroke-width="0.85"/>
<line x1="504.20" y1="947.50" x2="508.40" y2="947.50" stroke="#4a4849" stroke-width="0.85"/>
<rect x="501.72" y="926.25" width="8.95" height="8.1" fill="#231f20"/>
<ellipse cx="506.30" cy="948.70" rx="4.4" ry="3.92" fill="#fff" stroke="#231f20" stroke-width="1.4"/>
<line x1="506.30" y1="947.20" x2="506.30" y2="979.80" stroke="#4a4849" stroke-width="0.85"/>
<line x1="504.20" y1="947.20" x2="508.40" y2="947.20" stroke="#4a4849" stroke-width="0.85"/>
<line x1="504.20" y1="979.80" x2="508.40" y2="979.80" stroke="#4a4849" stroke-width="0.85"/>
</g>
<line x1="411.50" y1="809.80" x2="411.50" y2="997.00" stroke="#575455" stroke-width="1.0"/>
<line x1="409.90" y1="996.50" x2="542.55" y2="996.50" stroke="#575455" stroke-width="1.0"/>
<line x1="556.80" y1="996.50" x2="685.00" y2="996.50" stroke="#575455" stroke-width="1.0"/>
<line x1="540.05" y1="1001.85" x2="546.45" y2="990.35" stroke="#231f20" stroke-width="3.0"/>
<line x1="552.60" y1="1001.85" x2="559.10" y2="990.35" stroke="#231f20" stroke-width="3.0"/>
<line x1="427.20" y1="996.50" x2="427.20" y2="1000.50" stroke="#575455" stroke-width="1.0"/>
<line x1="506.30" y1="996.50" x2="506.30" y2="1000.50" stroke="#575455" stroke-width="1.0"/>
<line x1="591.30" y1="996.50" x2="591.30" y2="1000.50" stroke="#575455" stroke-width="1.0"/>
<line x1="672.70" y1="996.50" x2="672.70" y2="1000.50" stroke="#575455" stroke-width="1.0"/>
<line x1="407.10" y1="853.50" x2="411.50" y2="853.50" stroke="#575455" stroke-width="1.0"/>
<line x1="407.10" y1="915.70" x2="411.50" y2="915.70" stroke="#575455" stroke-width="1.0"/>
<line x1="407.10" y1="977.60" x2="411.50" y2="977.60" stroke="#575455" stroke-width="1.0"/>
<line x1="409.20" y1="996.28" x2="411.50" y2="996.28" stroke="#575455" stroke-width="1.0"/>
<line x1="409.20" y1="991.37" x2="411.50" y2="991.37" stroke="#575455" stroke-width="1.0"/>
<line x1="409.20" y1="987.21" x2="411.50" y2="987.21" stroke="#575455" stroke-width="1.0"/>
<line x1="409.20" y1="983.61" x2="411.50" y2="983.61" stroke="#575455" stroke-width="1.0"/>
<line x1="409.20" y1="980.44" x2="411.50" y2="980.44" stroke="#575455" stroke-width="1.0"/>
<line x1="409.20" y1="958.92" x2="411.50" y2="958.92" stroke="#575455" stroke-width="1.0"/>
<line x1="409.20" y1="947.99" x2="411.50" y2="947.99" stroke="#575455" stroke-width="1.0"/>
<line x1="409.20" y1="940.24" x2="411.50" y2="940.24" stroke="#575455" stroke-width="1.0"/>
<line x1="409.20" y1="934.23" x2="411.50" y2="934.23" stroke="#575455" stroke-width="1.0"/>
<line x1="409.20" y1="929.32" x2="411.50" y2="929.32" stroke="#575455" stroke-width="1.0"/>
<line x1="409.20" y1="925.16" x2="411.50" y2="925.16" stroke="#575455" stroke-width="1.0"/>
<line x1="409.20" y1="921.56" x2="411.50" y2="921.56" stroke="#575455" stroke-width="1.0"/>
<line x1="409.20" y1="918.39" x2="411.50" y2="918.39" stroke="#575455" stroke-width="1.0"/>
<line x1="409.20" y1="896.87" x2="411.50" y2="896.87" stroke="#575455" stroke-width="1.0"/>
<line x1="409.20" y1="885.94" x2="411.50" y2="885.94" stroke="#575455" stroke-width="1.0"/>
<line x1="409.20" y1="878.19" x2="411.50" y2="878.19" stroke="#575455" stroke-width="1.0"/>
<line x1="409.20" y1="872.18" x2="411.50" y2="872.18" stroke="#575455" stroke-width="1.0"/>
<line x1="409.20" y1="867.27" x2="411.50" y2="867.27" stroke="#575455" stroke-width="1.0"/>
<line x1="409.20" y1="863.11" x2="411.50" y2="863.11" stroke="#575455" stroke-width="1.0"/>
<line x1="409.20" y1="859.51" x2="411.50" y2="859.51" stroke="#575455" stroke-width="1.0"/>
<line x1="409.20" y1="856.34" x2="411.50" y2="856.34" stroke="#575455" stroke-width="1.0"/>
<line x1="409.20" y1="834.82" x2="411.50" y2="834.82" stroke="#575455" stroke-width="1.0"/>
<line x1="409.20" y1="823.89" x2="411.50" y2="823.89" stroke="#575455" stroke-width="1.0"/>
<line x1="409.20" y1="816.14" x2="411.50" y2="816.14" stroke="#575455" stroke-width="1.0"/>
<line x1="409.20" y1="810.13" x2="411.50" y2="810.13" stroke="#575455" stroke-width="1.0"/>
<line x1="409.20" y1="810.30" x2="411.50" y2="810.30" stroke="#575455" stroke-width="0.9"/>
<text x="379.37" y="858.01" font-size="12.6" font-family='"Liberation Sans", Arial, Helvetica, sans-serif' fill="#231f20" transform="rotate(0.03 379.37 858.01)" textLength="24.83" lengthAdjust="spacingAndGlyphs" stroke="#231f20" stroke-width="0.15">100</text>
<rect x="379.52" y="856.00" width="3.31" height="3.00" fill="#fff"/>
<rect x="384.72" y="856.00" width="3.37" height="3.00" fill="#fff"/>
<text x="387.99" y="920.21" font-size="12.6" font-family='"Liberation Sans", Arial, Helvetica, sans-serif' fill="#231f20" transform="rotate(0.03 387.99 920.21)" textLength="16.21" lengthAdjust="spacingAndGlyphs" stroke="#231f20" stroke-width="0.15">10</text>
<rect x="388.14" y="918.00" width="3.24" height="3.00" fill="#fff"/>
<rect x="393.23" y="918.00" width="3.30" height="3.00" fill="#fff"/>
<text x="396.61" y="982.11" font-size="12.6" font-family='"Liberation Sans", Arial, Helvetica, sans-serif' fill="#231f20" transform="rotate(0.03 396.61 982.11)" textLength="7.59" lengthAdjust="spacingAndGlyphs" stroke="#231f20" stroke-width="0.15">1</text>
<rect x="396.75" y="980.00" width="3.03" height="3.00" fill="#fff"/>
<rect x="401.52" y="980.00" width="3.09" height="3.00" fill="#fff"/>
<text x="422.45" y="1015.13" font-size="13.4" font-family='"Liberation Sans", Arial, Helvetica, sans-serif' fill="#231f20" transform="rotate(0.03 422.45 1015.13)" textLength="9.50" lengthAdjust="spacingAndGlyphs" stroke="#231f20" stroke-width="0.15">0</text>
<text x="501.55" y="1015.13" font-size="13.4" font-family='"Liberation Sans", Arial, Helvetica, sans-serif' fill="#231f20" transform="rotate(0.03 501.55 1015.13)" textLength="9.50" lengthAdjust="spacingAndGlyphs" stroke="#231f20" stroke-width="0.15">1</text>
<rect x="501.72" y="1013.00" width="3.79" height="3.00" fill="#fff"/>
<rect x="507.69" y="1013.00" width="3.87" height="3.00" fill="#fff"/>
<text x="586.55" y="1015.13" font-size="13.4" font-family='"Liberation Sans", Arial, Helvetica, sans-serif' fill="#231f20" transform="rotate(0.03 586.55 1015.13)" textLength="9.50" lengthAdjust="spacingAndGlyphs" stroke="#231f20" stroke-width="0.15">4</text>
<text x="667.95" y="1015.13" font-size="13.4" font-family='"Liberation Sans", Arial, Helvetica, sans-serif' fill="#231f20" transform="rotate(0.03 667.95 1015.13)" textLength="9.50" lengthAdjust="spacingAndGlyphs" stroke="#231f20" stroke-width="0.15">5</text>
<text x="445.10" y="1031.70" font-size="14.6" font-family='"Liberation Sans", Arial, Helvetica, sans-serif' fill="#231f20" transform="rotate(0.03 445.10 1031.70)" textLength="206.10" lengthAdjust="spacingAndGlyphs" stroke="#231f20" stroke-width="0.28" stroke-linejoin="round">Time after BrdU injection (week)</text>
<g transform="translate(370.90,987.40) rotate(-89.97)">
<text x="0.00" y="0.00" font-size="14.6" font-family='"Liberation Sans", Arial, Helvetica, sans-serif' fill="#231f20" textLength="167.50" lengthAdjust="spacingAndGlyphs" stroke="#231f20" stroke-width="0.28" stroke-linejoin="round">No. of BrdU+ type-2b cells</text>
</g>
<text x="360.30" y="802.85" font-size="25.2" font-family='"Liberation Sans", Arial, Helvetica, sans-serif' fill="#231f20" transform="rotate(0.03 360.30 802.85)" stroke="#231f20" stroke-width="0.25">h</text>
<text x="526.70" y="830.20" font-size="18.0" font-family='"Liberation Sans", Arial, Helvetica, sans-serif' fill="#231f20" transform="rotate(0.03 526.70 830.20)" stroke="#231f20" stroke-width="0.35">5 Gy</text>
<rect x="615.50" y="816.15" width="8.8" height="8.5" fill="#231f20"/>
<ellipse cx="620.40" cy="843.50" rx="4.45" ry="4.25" fill="#fff" stroke="#231f20" stroke-width="1.15"/>
<text x="629.30" y="825.10" font-size="14.6" font-family='"Liberation Sans", Arial, Helvetica, sans-serif' fill="#231f20" transform="rotate(0.03 629.30 825.10)" textLength="44.80" lengthAdjust="spacingAndGlyphs" stroke="#231f20" stroke-width="0.28" stroke-linejoin="round">p21+/+</text>
<rect x="645.44" y="823.00" width="3.20" height="3.00" fill="#fff"/>
<rect x="650.47" y="823.00" width="3.26" height="3.00" fill="#fff"/>
<text x="629.30" y="847.50" font-size="14.6" font-family='"Liberation Sans", Arial, Helvetica, sans-serif' fill="#231f20" transform="rotate(0.03 629.30 847.50)" textLength="43.80" lengthAdjust="spacingAndGlyphs" stroke="#231f20" stroke-width="0.28" stroke-linejoin="round">p21<tspan dy="-0.9" fill="#6a6a6c" stroke="none">–</tspan><tspan dy="0.9">/</tspan><tspan dy="-0.9" fill="#6a6a6c" stroke="none">–</tspan></text>
<rect x="645.37" y="846.00" width="3.18" height="2.00" fill="#fff"/>
<rect x="650.37" y="846.00" width="3.24" height="2.00" fill="#fff"/>
<text x="427.20" y="859.20" font-size="24" font-family='"Liberation Serif", "Times New Roman", serif' fill="#231f20" transform="rotate(0.03 427.20 859.20)" text-anchor="middle">§</text>
<text x="438.15" y="878.90" font-size="28.5" font-family='"Liberation Serif", "Times New Roman", serif' fill="#231f20" transform="rotate(0.03 438.15 878.90)" textLength="11.50" lengthAdjust="spacingAndGlyphs" stroke="#231f20" stroke-width="0.25" stroke-linejoin="round">*</text>
</g>
<g id="panel-i">
<clipPath id="clip-i"><rect x="55.5" y="1070.5" width="278.5" height="191.50"/></clipPath>
<g clip-path="url(#clip-i)">
<line x1="71.40" y1="1145.20" x2="71.40" y2="1169.40" stroke="#4a4849" stroke-width="0.85"/>
<line x1="69.30" y1="1145.20" x2="73.50" y2="1145.20" stroke="#4a4849" stroke-width="0.85"/>
<line x1="69.30" y1="1169.40" x2="73.50" y2="1169.40" stroke="#4a4849" stroke-width="0.85"/>
<rect x="66.83" y="1149.05" width="8.95" height="8.1" fill="#231f20"/>
<line x1="71.40" y1="1118.40" x2="71.40" y2="1142.20" stroke="#4a4849" stroke-width="0.85"/>
<line x1="69.30" y1="1118.40" x2="73.50" y2="1118.40" stroke="#4a4849" stroke-width="0.85"/>
<line x1="69.30" y1="1142.20" x2="73.50" y2="1142.20" stroke="#4a4849" stroke-width="0.85"/>
<ellipse cx="71.40" cy="1128.90" rx="4.4" ry="3.92" fill="#fff" stroke="#231f20" stroke-width="1.4"/>
<line x1="86.80" y1="1131.20" x2="86.80" y2="1179.00" stroke="#4a4849" stroke-width="0.85"/>
<line x1="84.70" y1="1131.20" x2="88.90" y2="1131.20" stroke="#4a4849" stroke-width="0.85"/>
<line x1="84.70" y1="1179.00" x2="88.90" y2="1179.00" stroke="#4a4849" stroke-width="0.85"/>
<rect x="82.23" y="1142.95" width="8.95" height="8.1" fill="#231f20"/>
<line x1="86.80" y1="1099.10" x2="86.80" y2="1113.10" stroke="#4a4849" stroke-width="0.85"/>
<line x1="84.70" y1="1099.10" x2="88.90" y2="1099.10" stroke="#4a4849" stroke-width="0.85"/>
<line x1="84.70" y1="1113.10" x2="88.90" y2="1113.10" stroke="#4a4849" stroke-width="0.85"/>
<ellipse cx="86.80" cy="1105.40" rx="4.4" ry="3.92" fill="#fff" stroke="#231f20" stroke-width="1.4"/>
<line x1="150.00" y1="1183.20" x2="150.00" y2="1222.30" stroke="#4a4849" stroke-width="0.85"/>
<line x1="147.90" y1="1183.20" x2="152.10" y2="1183.20" stroke="#4a4849" stroke-width="0.85"/>
<line x1="147.90" y1="1222.30" x2="152.10" y2="1222.30" stroke="#4a4849" stroke-width="0.85"/>
<rect x="145.43" y="1192.85" width="8.95" height="8.1" fill="#231f20"/>
<line x1="150.00" y1="1142.20" x2="150.00" y2="1161.50" stroke="#4a4849" stroke-width="0.85"/>
<line x1="147.90" y1="1142.20" x2="152.10" y2="1142.20" stroke="#4a4849" stroke-width="0.85"/>
<line x1="147.90" y1="1161.50" x2="152.10" y2="1161.50" stroke="#4a4849" stroke-width="0.85"/>
<ellipse cx="150.00" cy="1150.50" rx="4.4" ry="3.92" fill="#fff" stroke="#231f20" stroke-width="1.4"/>
<line x1="316.50" y1="1193.40" x2="316.50" y2="1210.60" stroke="#4a4849" stroke-width="0.85"/>
<line x1="314.40" y1="1193.40" x2="318.60" y2="1193.40" stroke="#4a4849" stroke-width="0.85"/>
<line x1="314.40" y1="1210.60" x2="318.60" y2="1210.60" stroke="#4a4849" stroke-width="0.85"/>
<rect x="311.92" y="1196.65" width="8.95" height="8.1" fill="#231f20"/>
<line x1="316.50" y1="1172.40" x2="316.50" y2="1193.40" stroke="#4a4849" stroke-width="0.85"/>
<line x1="314.40" y1="1172.40" x2="318.60" y2="1172.40" stroke="#4a4849" stroke-width="0.85"/>
<line x1="314.40" y1="1193.40" x2="318.60" y2="1193.40" stroke="#4a4849" stroke-width="0.85"/>
<ellipse cx="316.50" cy="1183.80" rx="4.4" ry="3.92" fill="#fff" stroke="#231f20" stroke-width="1.4"/>
</g>
<line x1="55.50" y1="1075.00" x2="55.50" y2="1262.10" stroke="#575455" stroke-width="1.0"/>
<line x1="53.90" y1="1261.60" x2="186.25" y2="1261.60" stroke="#575455" stroke-width="1.0"/>
<line x1="200.50" y1="1261.60" x2="329.00" y2="1261.60" stroke="#575455" stroke-width="1.0"/>
<line x1="183.75" y1="1266.95" x2="190.15" y2="1255.45" stroke="#231f20" stroke-width="3.0"/>
<line x1="196.30" y1="1266.95" x2="202.80" y2="1255.45" stroke="#231f20" stroke-width="3.0"/>
<line x1="71.40" y1="1261.60" x2="71.40" y2="1265.60" stroke="#575455" stroke-width="1.0"/>
<line x1="150.00" y1="1261.60" x2="150.00" y2="1265.60" stroke="#575455" stroke-width="1.0"/>
<line x1="235.40" y1="1261.60" x2="235.40" y2="1265.60" stroke="#575455" stroke-width="1.0"/>
<line x1="316.50" y1="1261.60" x2="316.50" y2="1265.60" stroke="#575455" stroke-width="1.0"/>
<line x1="51.10" y1="1123.30" x2="55.50" y2="1123.30" stroke="#575455" stroke-width="1.0"/>
<line x1="51.10" y1="1192.20" x2="55.50" y2="1192.20" stroke="#575455" stroke-width="1.0"/>
<line x1="51.10" y1="1261.60" x2="55.50" y2="1261.60" stroke="#575455" stroke-width="1.0"/>
<line x1="53.20" y1="1240.78" x2="55.50" y2="1240.78" stroke="#575455" stroke-width="1.0"/>
<line x1="53.20" y1="1228.61" x2="55.50" y2="1228.61" stroke="#575455" stroke-width="1.0"/>
<line x1="53.20" y1="1219.97" x2="55.50" y2="1219.97" stroke="#575455" stroke-width="1.0"/>
<line x1="53.20" y1="1213.27" x2="55.50" y2="1213.27" stroke="#575455" stroke-width="1.0"/>
<line x1="53.20" y1="1207.79" x2="55.50" y2="1207.79" stroke="#575455" stroke-width="1.0"/>
<line x1="53.20" y1="1203.16" x2="55.50" y2="1203.16" stroke="#575455" stroke-width="1.0"/>
<line x1="53.20" y1="1199.15" x2="55.50" y2="1199.15" stroke="#575455" stroke-width="1.0"/>
<line x1="53.20" y1="1195.61" x2="55.50" y2="1195.61" stroke="#575455" stroke-width="1.0"/>
<line x1="53.20" y1="1171.63" x2="55.50" y2="1171.63" stroke="#575455" stroke-width="1.0"/>
<line x1="53.20" y1="1159.46" x2="55.50" y2="1159.46" stroke="#575455" stroke-width="1.0"/>
<line x1="53.20" y1="1150.82" x2="55.50" y2="1150.82" stroke="#575455" stroke-width="1.0"/>
<line x1="53.20" y1="1144.12" x2="55.50" y2="1144.12" stroke="#575455" stroke-width="1.0"/>
<line x1="53.20" y1="1138.64" x2="55.50" y2="1138.64" stroke="#575455" stroke-width="1.0"/>
<line x1="53.20" y1="1134.01" x2="55.50" y2="1134.01" stroke="#575455" stroke-width="1.0"/>
<line x1="53.20" y1="1130.00" x2="55.50" y2="1130.00" stroke="#575455" stroke-width="1.0"/>
<line x1="53.20" y1="1126.46" x2="55.50" y2="1126.46" stroke="#575455" stroke-width="1.0"/>
<line x1="53.20" y1="1102.48" x2="55.50" y2="1102.48" stroke="#575455" stroke-width="1.0"/>
<line x1="53.20" y1="1090.31" x2="55.50" y2="1090.31" stroke="#575455" stroke-width="1.0"/>
<line x1="53.20" y1="1081.67" x2="55.50" y2="1081.67" stroke="#575455" stroke-width="1.0"/>
<line x1="53.20" y1="1074.97" x2="55.50" y2="1074.97" stroke="#575455" stroke-width="1.0"/>
<line x1="53.20" y1="1075.50" x2="55.50" y2="1075.50" stroke="#575455" stroke-width="0.9"/>
<text x="23.37" y="1127.81" font-size="12.6" font-family='"Liberation Sans", Arial, Helvetica, sans-serif' fill="#231f20" transform="rotate(0.03 23.37 1127.81)" textLength="24.83" lengthAdjust="spacingAndGlyphs" stroke="#231f20" stroke-width="0.15">100</text>
<rect x="23.52" y="1126.00" width="3.31" height="3.00" fill="#fff"/>
<rect x="28.72" y="1126.00" width="3.37" height="3.00" fill="#fff"/>
<text x="31.99" y="1196.71" font-size="12.6" font-family='"Liberation Sans", Arial, Helvetica, sans-serif' fill="#231f20" transform="rotate(0.03 31.99 1196.71)" textLength="16.21" lengthAdjust="spacingAndGlyphs" stroke="#231f20" stroke-width="0.15">10</text>
<rect x="32.14" y="1195.00" width="3.24" height="3.00" fill="#fff"/>
<rect x="37.23" y="1195.00" width="3.30" height="3.00" fill="#fff"/>
<text x="40.61" y="1266.11" font-size="12.6" font-family='"Liberation Sans", Arial, Helvetica, sans-serif' fill="#231f20" transform="rotate(0.03 40.61 1266.11)" textLength="7.59" lengthAdjust="spacingAndGlyphs" stroke="#231f20" stroke-width="0.15">1</text>
<rect x="40.75" y="1264.00" width="3.03" height="3.00" fill="#fff"/>
<rect x="45.52" y="1264.00" width="3.09" height="3.00" fill="#fff"/>
<text x="66.65" y="1280.43" font-size="13.4" font-family='"Liberation Sans", Arial, Helvetica, sans-serif' fill="#231f20" transform="rotate(0.03 66.65 1280.43)" textLength="9.50" lengthAdjust="spacingAndGlyphs" stroke="#231f20" stroke-width="0.15">0</text>
<text x="145.25" y="1280.43" font-size="13.4" font-family='"Liberation Sans", Arial, Helvetica, sans-serif' fill="#231f20" transform="rotate(0.03 145.25 1280.43)" textLength="9.50" lengthAdjust="spacingAndGlyphs" stroke="#231f20" stroke-width="0.15">1</text>
<rect x="145.42" y="1279.00" width="3.79" height="2.00" fill="#fff"/>
<rect x="151.39" y="1279.00" width="3.87" height="2.00" fill="#fff"/>
<text x="230.65" y="1280.43" font-size="13.4" font-family='"Liberation Sans", Arial, Helvetica, sans-serif' fill="#231f20" transform="rotate(0.03 230.65 1280.43)" textLength="9.50" lengthAdjust="spacingAndGlyphs" stroke="#231f20" stroke-width="0.15">4</text>
<text x="311.75" y="1280.43" font-size="13.4" font-family='"Liberation Sans", Arial, Helvetica, sans-serif' fill="#231f20" transform="rotate(0.03 311.75 1280.43)" textLength="9.50" lengthAdjust="spacingAndGlyphs" stroke="#231f20" stroke-width="0.15">5</text>
<text x="87.90" y="1300.95" font-size="14.6" font-family='"Liberation Sans", Arial, Helvetica, sans-serif' fill="#231f20" transform="rotate(0.03 87.90 1300.95)" textLength="206.30" lengthAdjust="spacingAndGlyphs" stroke="#231f20" stroke-width="0.28" stroke-linejoin="round">Time after BrdU injection (week)</text>
<g transform="translate(11.20,1251.40) rotate(-89.97)">
<text x="0.00" y="0.00" font-size="14.6" font-family='"Liberation Sans", Arial, Helvetica, sans-serif' fill="#231f20" textLength="159.90" lengthAdjust="spacingAndGlyphs" stroke="#231f20" stroke-width="0.28" stroke-linejoin="round">No. of BrdU+ type-3 cells</text>
</g>
<text x="0.45" y="1074.95" font-size="25.0" font-family='"Liberation Sans", Arial, Helvetica, sans-serif' fill="#231f20" transform="rotate(0.03 0.45 1074.95)" stroke="#231f20" stroke-width="0.5">i</text>
<text x="170.70" y="1096.30" font-size="18.0" font-family='"Liberation Sans", Arial, Helvetica, sans-serif' fill="#231f20" transform="rotate(0.03 170.70 1096.30)" stroke="#231f20" stroke-width="0.35">0 Gy</text>
<rect x="259.60" y="1082.65" width="8.8" height="8.5" fill="#231f20"/>
<ellipse cx="264.70" cy="1110.20" rx="4.45" ry="4.25" fill="#fff" stroke="#231f20" stroke-width="1.15"/>
<text x="273.50" y="1091.40" font-size="14.6" font-family='"Liberation Sans", Arial, Helvetica, sans-serif' fill="#231f20" transform="rotate(0.03 273.50 1091.40)" textLength="44.30" lengthAdjust="spacingAndGlyphs" stroke="#231f20" stroke-width="0.28" stroke-linejoin="round">p21+/+</text>
<rect x="289.46" y="1090.00" width="3.16" height="2.00" fill="#fff"/>
<rect x="294.43" y="1090.00" width="3.22" height="2.00" fill="#fff"/>
<text x="273.50" y="1113.60" font-size="14.6" font-family='"Liberation Sans", Arial, Helvetica, sans-serif' fill="#231f20" transform="rotate(0.03 273.50 1113.60)" textLength="43.30" lengthAdjust="spacingAndGlyphs" stroke="#231f20" stroke-width="0.28" stroke-linejoin="round">p21<tspan dy="-0.9" fill="#6a6a6c" stroke="none">–</tspan><tspan dy="0.9">/</tspan><tspan dy="-0.9" fill="#6a6a6c" stroke="none">–</tspan></text>
<rect x="289.39" y="1112.00" width="3.15" height="2.00" fill="#fff"/>
<rect x="294.33" y="1112.00" width="3.21" height="2.00" fill="#fff"/>
<text x="86.80" y="1090.30" font-size="24" font-family='"Liberation Serif", "Times New Roman", serif' fill="#231f20" transform="rotate(0.03 86.80 1090.30)" text-anchor="middle">§</text>
</g>
<g id="panel-j">
<clipPath id="clip-j"><rect x="411.5" y="1070.5" width="278.5" height="191.50"/></clipPath>
<g clip-path="url(#clip-j)">
<line x1="427.20" y1="1165.00" x2="427.20" y2="1200.40" stroke="#4a4849" stroke-width="0.85"/>
<line x1="425.10" y1="1165.00" x2="429.30" y2="1165.00" stroke="#4a4849" stroke-width="0.85"/>
<line x1="425.10" y1="1200.40" x2="429.30" y2="1200.40" stroke="#4a4849" stroke-width="0.85"/>
<rect x="422.62" y="1168.35" width="8.95" height="8.1" fill="#231f20"/>
<line x1="427.20" y1="1156.20" x2="427.20" y2="1174.00" stroke="#4a4849" stroke-width="0.85"/>
<line x1="425.10" y1="1156.20" x2="429.30" y2="1156.20" stroke="#4a4849" stroke-width="0.85"/>
<line x1="425.10" y1="1174.00" x2="429.30" y2="1174.00" stroke="#4a4849" stroke-width="0.85"/>
<ellipse cx="427.20" cy="1169.40" rx="4.4" ry="3.92" fill="#fff" stroke="#231f20" stroke-width="1.4"/>
<line x1="443.00" y1="1196.50" x2="443.00" y2="1229.30" stroke="#4a4849" stroke-width="0.85"/>
<line x1="440.90" y1="1196.50" x2="445.10" y2="1196.50" stroke="#4a4849" stroke-width="0.85"/>
<line x1="440.90" y1="1229.30" x2="445.10" y2="1229.30" stroke="#4a4849" stroke-width="0.85"/>
<rect x="438.42" y="1205.15" width="8.95" height="8.1" fill="#231f20"/>
<line x1="440.90" y1="1219.30" x2="445.10" y2="1219.30" stroke="#4a4849" stroke-width="0.85"/>
<line x1="443.00" y1="1165.00" x2="443.00" y2="1196.50" stroke="#4a4849" stroke-width="0.85"/>
<line x1="440.90" y1="1165.00" x2="445.10" y2="1165.00" stroke="#4a4849" stroke-width="0.85"/>
<line x1="440.90" y1="1196.50" x2="445.10" y2="1196.50" stroke="#4a4849" stroke-width="0.85"/>
<ellipse cx="443.00" cy="1181.50" rx="4.4" ry="3.92" fill="#fff" stroke="#231f20" stroke-width="1.4"/>
<line x1="506.30" y1="1196.50" x2="506.30" y2="1229.30" stroke="#4a4849" stroke-width="0.85"/>
<line x1="504.20" y1="1196.50" x2="508.40" y2="1196.50" stroke="#4a4849" stroke-width="0.85"/>
<line x1="504.20" y1="1229.30" x2="508.40" y2="1229.30" stroke="#4a4849" stroke-width="0.85"/>
<rect x="501.72" y="1205.15" width="8.95" height="8.1" fill="#231f20"/>
<line x1="506.30" y1="1196.50" x2="506.30" y2="1229.30" stroke="#4a4849" stroke-width="0.85"/>
<line x1="504.20" y1="1196.50" x2="508.40" y2="1196.50" stroke="#4a4849" stroke-width="0.85"/>
<line x1="504.20" y1="1229.30" x2="508.40" y2="1229.30" stroke="#4a4849" stroke-width="0.85"/>
<ellipse cx="506.30" cy="1209.20" rx="4.4" ry="3.92" fill="#fff" stroke="#231f20" stroke-width="1.4"/>
<line x1="672.70" y1="1188.50" x2="672.70" y2="1216.70" stroke="#4a4849" stroke-width="0.85"/>
<line x1="670.60" y1="1188.50" x2="674.80" y2="1188.50" stroke="#4a4849" stroke-width="0.85"/>
<line x1="670.60" y1="1216.70" x2="674.80" y2="1216.70" stroke="#4a4849" stroke-width="0.85"/>
<rect x="668.12" y="1197.25" width="8.95" height="8.1" fill="#231f20"/>
<line x1="672.70" y1="1188.50" x2="672.70" y2="1216.70" stroke="#4a4849" stroke-width="0.85"/>
<line x1="670.60" y1="1188.50" x2="674.80" y2="1188.50" stroke="#4a4849" stroke-width="0.85"/>
<line x1="670.60" y1="1216.70" x2="674.80" y2="1216.70" stroke="#4a4849" stroke-width="0.85"/>
<ellipse cx="672.70" cy="1199.20" rx="4.4" ry="3.92" fill="#fff" stroke="#231f20" stroke-width="1.4"/>
</g>
<line x1="411.50" y1="1075.00" x2="411.50" y2="1262.10" stroke="#575455" stroke-width="1.0"/>
<line x1="409.90" y1="1261.60" x2="542.55" y2="1261.60" stroke="#575455" stroke-width="1.0"/>
<line x1="556.80" y1="1261.60" x2="685.00" y2="1261.60" stroke="#575455" stroke-width="1.0"/>
<line x1="540.05" y1="1266.95" x2="546.45" y2="1255.45" stroke="#231f20" stroke-width="3.0"/>
<line x1="552.60" y1="1266.95" x2="559.10" y2="1255.45" stroke="#231f20" stroke-width="3.0"/>
<line x1="427.20" y1="1261.60" x2="427.20" y2="1265.60" stroke="#575455" stroke-width="1.0"/>
<line x1="506.30" y1="1261.60" x2="506.30" y2="1265.60" stroke="#575455" stroke-width="1.0"/>
<line x1="591.30" y1="1261.60" x2="591.30" y2="1265.60" stroke="#575455" stroke-width="1.0"/>
<line x1="672.70" y1="1261.60" x2="672.70" y2="1265.60" stroke="#575455" stroke-width="1.0"/>
<line x1="407.10" y1="1123.30" x2="411.50" y2="1123.30" stroke="#575455" stroke-width="1.0"/>
<line x1="407.10" y1="1192.20" x2="411.50" y2="1192.20" stroke="#575455" stroke-width="1.0"/>
<line x1="407.10" y1="1261.60" x2="411.50" y2="1261.60" stroke="#575455" stroke-width="1.0"/>
<line x1="409.20" y1="1240.78" x2="411.50" y2="1240.78" stroke="#575455" stroke-width="1.0"/>
<line x1="409.20" y1="1228.61" x2="411.50" y2="1228.61" stroke="#575455" stroke-width="1.0"/>
<line x1="409.20" y1="1219.97" x2="411.50" y2="1219.97" stroke="#575455" stroke-width="1.0"/>
<line x1="409.20" y1="1213.27" x2="411.50" y2="1213.27" stroke="#575455" stroke-width="1.0"/>
<line x1="409.20" y1="1207.79" x2="411.50" y2="1207.79" stroke="#575455" stroke-width="1.0"/>
<line x1="409.20" y1="1203.16" x2="411.50" y2="1203.16" stroke="#575455" stroke-width="1.0"/>
<line x1="409.20" y1="1199.15" x2="411.50" y2="1199.15" stroke="#575455" stroke-width="1.0"/>
<line x1="409.20" y1="1195.61" x2="411.50" y2="1195.61" stroke="#575455" stroke-width="1.0"/>
<line x1="409.20" y1="1171.63" x2="411.50" y2="1171.63" stroke="#575455" stroke-width="1.0"/>
<line x1="409.20" y1="1159.46" x2="411.50" y2="1159.46" stroke="#575455" stroke-width="1.0"/>
<line x1="409.20" y1="1150.82" x2="411.50" y2="1150.82" stroke="#575455" stroke-width="1.0"/>
<line x1="409.20" y1="1144.12" x2="411.50" y2="1144.12" stroke="#575455" stroke-width="1.0"/>
<line x1="409.20" y1="1138.64" x2="411.50" y2="1138.64" stroke="#575455" stroke-width="1.0"/>
<line x1="409.20" y1="1134.01" x2="411.50" y2="1134.01" stroke="#575455" stroke-width="1.0"/>
<line x1="409.20" y1="1130.00" x2="411.50" y2="1130.00" stroke="#575455" stroke-width="1.0"/>
<line x1="409.20" y1="1126.46" x2="411.50" y2="1126.46" stroke="#575455" stroke-width="1.0"/>
<line x1="409.20" y1="1102.48" x2="411.50" y2="1102.48" stroke="#575455" stroke-width="1.0"/>
<line x1="409.20" y1="1090.31" x2="411.50" y2="1090.31" stroke="#575455" stroke-width="1.0"/>
<line x1="409.20" y1="1081.67" x2="411.50" y2="1081.67" stroke="#575455" stroke-width="1.0"/>
<line x1="409.20" y1="1074.97" x2="411.50" y2="1074.97" stroke="#575455" stroke-width="1.0"/>
<line x1="409.20" y1="1075.50" x2="411.50" y2="1075.50" stroke="#575455" stroke-width="0.9"/>
<text x="379.37" y="1127.81" font-size="12.6" font-family='"Liberation Sans", Arial, Helvetica, sans-serif' fill="#231f20" transform="rotate(0.03 379.37 1127.81)" textLength="24.83" lengthAdjust="spacingAndGlyphs" stroke="#231f20" stroke-width="0.15">100</text>
<rect x="379.52" y="1126.00" width="3.31" height="3.00" fill="#fff"/>
<rect x="384.72" y="1126.00" width="3.37" height="3.00" fill="#fff"/>
<text x="387.99" y="1196.71" font-size="12.6" font-family='"Liberation Sans", Arial, Helvetica, sans-serif' fill="#231f20" transform="rotate(0.03 387.99 1196.71)" textLength="16.21" lengthAdjust="spacingAndGlyphs" stroke="#231f20" stroke-width="0.15">10</text>
<rect x="388.14" y="1195.00" width="3.24" height="3.00" fill="#fff"/>
<rect x="393.23" y="1195.00" width="3.30" height="3.00" fill="#fff"/>
<text x="396.61" y="1266.11" font-size="12.6" font-family='"Liberation Sans", Arial, Helvetica, sans-serif' fill="#231f20" transform="rotate(0.03 396.61 1266.11)" textLength="7.59" lengthAdjust="spacingAndGlyphs" stroke="#231f20" stroke-width="0.15">1</text>
<rect x="396.75" y="1264.00" width="3.03" height="3.00" fill="#fff"/>
<rect x="401.52" y="1264.00" width="3.09" height="3.00" fill="#fff"/>
<text x="422.45" y="1280.43" font-size="13.4" font-family='"Liberation Sans", Arial, Helvetica, sans-serif' fill="#231f20" transform="rotate(0.03 422.45 1280.43)" textLength="9.50" lengthAdjust="spacingAndGlyphs" stroke="#231f20" stroke-width="0.15">0</text>
<text x="501.55" y="1280.43" font-size="13.4" font-family='"Liberation Sans", Arial, Helvetica, sans-serif' fill="#231f20" transform="rotate(0.03 501.55 1280.43)" textLength="9.50" lengthAdjust="spacingAndGlyphs" stroke="#231f20" stroke-width="0.15">1</text>
<rect x="501.72" y="1279.00" width="3.79" height="2.00" fill="#fff"/>
<rect x="507.69" y="1279.00" width="3.87" height="2.00" fill="#fff"/>
<text x="586.55" y="1280.43" font-size="13.4" font-family='"Liberation Sans", Arial, Helvetica, sans-serif' fill="#231f20" transform="rotate(0.03 586.55 1280.43)" textLength="9.50" lengthAdjust="spacingAndGlyphs" stroke="#231f20" stroke-width="0.15">4</text>
<text x="667.95" y="1280.43" font-size="13.4" font-family='"Liberation Sans", Arial, Helvetica, sans-serif' fill="#231f20" transform="rotate(0.03 667.95 1280.43)" textLength="9.50" lengthAdjust="spacingAndGlyphs" stroke="#231f20" stroke-width="0.15">5</text>
<text x="440.40" y="1300.95" font-size="14.6" font-family='"Liberation Sans", Arial, Helvetica, sans-serif' fill="#231f20" transform="rotate(0.03 440.40 1300.95)" textLength="206.20" lengthAdjust="spacingAndGlyphs" stroke="#231f20" stroke-width="0.28" stroke-linejoin="round">Time after BrdU injection (week)</text>
<g transform="translate(370.90,1251.40) rotate(-89.97)">
<text x="0.00" y="0.00" font-size="14.6" font-family='"Liberation Sans", Arial, Helvetica, sans-serif' fill="#231f20" textLength="159.90" lengthAdjust="spacingAndGlyphs" stroke="#231f20" stroke-width="0.28" stroke-linejoin="round">No. of BrdU+ type-3 cells</text>
</g>
<text x="363.30" y="1069.50" font-size="25.6" font-family='"Liberation Sans", Arial, Helvetica, sans-serif' fill="#231f20" transform="rotate(0.03 363.30 1069.50)" stroke="#231f20" stroke-width="0.4">j</text>
<text x="526.70" y="1096.30" font-size="18.0" font-family='"Liberation Sans", Arial, Helvetica, sans-serif' fill="#231f20" transform="rotate(0.03 526.70 1096.30)" stroke="#231f20" stroke-width="0.35">5 Gy</text>
<rect x="615.20" y="1082.65" width="8.8" height="8.5" fill="#231f20"/>
<ellipse cx="620.40" cy="1110.20" rx="4.45" ry="4.25" fill="#fff" stroke="#231f20" stroke-width="1.15"/>
<text x="629.30" y="1091.40" font-size="14.6" font-family='"Liberation Sans", Arial, Helvetica, sans-serif' fill="#231f20" transform="rotate(0.03 629.30 1091.40)" textLength="44.80" lengthAdjust="spacingAndGlyphs" stroke="#231f20" stroke-width="0.28" stroke-linejoin="round">p21+/+</text>
<rect x="645.44" y="1090.00" width="3.20" height="2.00" fill="#fff"/>
<rect x="650.47" y="1090.00" width="3.26" height="2.00" fill="#fff"/>
<text x="629.30" y="1113.60" font-size="14.6" font-family='"Liberation Sans", Arial, Helvetica, sans-serif' fill="#231f20" transform="rotate(0.03 629.30 1113.60)" textLength="43.80" lengthAdjust="spacingAndGlyphs" stroke="#231f20" stroke-width="0.28" stroke-linejoin="round">p21<tspan dy="-0.9" fill="#6a6a6c" stroke="none">–</tspan><tspan dy="0.9">/</tspan><tspan dy="-0.9" fill="#6a6a6c" stroke="none">–</tspan></text>
<rect x="645.37" y="1112.00" width="3.18" height="2.00" fill="#fff"/>
<rect x="650.37" y="1112.00" width="3.24" height="2.00" fill="#fff"/>
</g>
</svg>
</body></html>
